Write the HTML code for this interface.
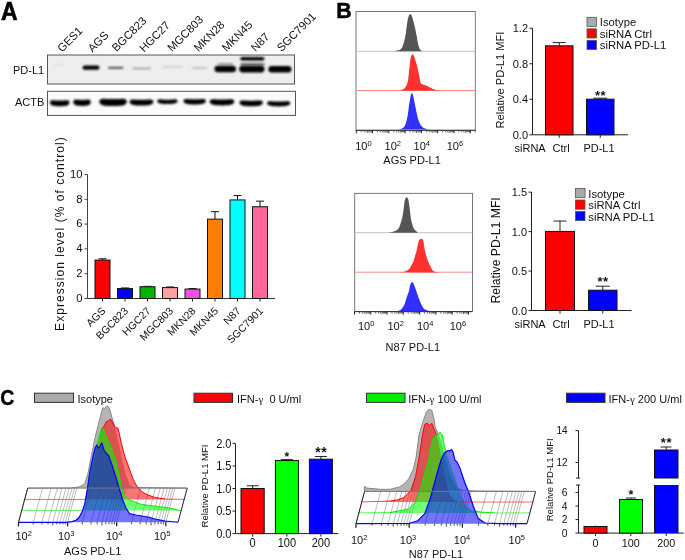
<!DOCTYPE html><html><head><meta charset="utf-8"><style>html,body{margin:0;padding:0;background:#fff;overflow:hidden}svg{display:block;will-change:transform}</style></head><body>
<svg width="685" height="560" viewBox="0 0 685 560" font-family='"Liberation Sans", sans-serif'>
<defs><filter id="b1" x="-30%" y="-400%" width="160%" height="900%"><feGaussianBlur stdDeviation="0.9"/></filter><filter id="b2" x="-30%" y="-400%" width="160%" height="900%"><feGaussianBlur stdDeviation="1.3"/></filter><filter id="b3" x="-30%" y="-400%" width="160%" height="900%"><feGaussianBlur stdDeviation="0.8"/></filter></defs>
<text x="0.90" y="19.70" font-size="25" font-weight="bold" transform="translate(0.90 19.70) scale(0.92 1) translate(-0.90 -19.70)" fill="#000" stroke="#000" stroke-width="0.6">A</text>
<text x="62.00" y="52.80" font-size="11.3" transform="rotate(-45 62.00 52.80)" fill="#111">GES1</text>
<text x="92.50" y="52.80" font-size="11.3" transform="rotate(-45 92.50 52.80)" fill="#111">AGS</text>
<text x="116.50" y="52.30" font-size="11.3" transform="rotate(-45 116.50 52.30)" fill="#111">BGC823</text>
<text x="144.00" y="52.80" font-size="11.3" transform="rotate(-45 144.00 52.80)" fill="#111">HGC27</text>
<text x="172.00" y="52.30" font-size="11.3" transform="rotate(-45 172.00 52.30)" fill="#111">MGC803</text>
<text x="198.50" y="52.30" font-size="11.3" transform="rotate(-45 198.50 52.30)" fill="#111">MKN28</text>
<text x="226.50" y="52.30" font-size="11.3" transform="rotate(-45 226.50 52.30)" fill="#111">MKN45</text>
<text x="255.50" y="52.30" font-size="11.3" transform="rotate(-45 255.50 52.30)" fill="#111">N87</text>
<text x="281.50" y="52.30" font-size="11.3" transform="rotate(-45 281.50 52.30)" fill="#111">SGC7901</text>
<text x="13.00" y="73.80" font-size="11" fill="#111">PD-L1</text>
<text x="15.00" y="106.00" font-size="11" fill="#111">ACTB</text>
<rect x="47.50" y="55.00" width="247.00" height="29.00" fill="#eeeeee" stroke="#555" stroke-width="1"/>
<rect x="53.50" y="64.20" width="10.00" height="1.20" rx="0.60" fill="#bbb" filter="url(#b1)" opacity="0.35"/>
<rect x="82.50" y="65.60" width="17.00" height="4.20" rx="2.10" fill="#000" filter="url(#b1)" opacity="1"/>
<rect x="108.00" y="66.90" width="15.50" height="1.60" rx="0.80" fill="#000" filter="url(#b3)" opacity="0.9"/>
<rect x="132.50" y="67.65" width="18.50" height="1.50" rx="0.75" fill="#222" filter="url(#b1)" opacity="0.45"/>
<rect x="162.50" y="65.90" width="20.00" height="1.80" rx="0.90" fill="#888" filter="url(#b1)" opacity="0.3"/>
<rect x="192.00" y="67.30" width="15.00" height="1.60" rx="0.80" fill="#666" filter="url(#b1)" opacity="0.38"/>
<rect x="218.00" y="63.30" width="15.10" height="1.60" rx="0.80" fill="#444" filter="url(#b1)" opacity="0.6"/>
<rect x="214.50" y="65.70" width="21.50" height="6.60" rx="3.30" fill="#000" filter="url(#b1)" opacity="1"/>
<rect x="240.20" y="57.00" width="24.30" height="3.60" rx="1.80" fill="#000" filter="url(#b1)" opacity="1"/>
<rect x="240.50" y="63.40" width="24.00" height="2.00" rx="1.00" fill="#111" filter="url(#b1)" opacity="0.85"/>
<rect x="239.20" y="65.70" width="25.30" height="6.80" rx="3.40" fill="#000" filter="url(#b1)" opacity="1"/>
<rect x="268.40" y="66.00" width="23.10" height="6.60" rx="3.30" fill="#000" filter="url(#b1)" opacity="1"/>
<rect x="47.50" y="91.30" width="248.00" height="24.10" fill="#fbfbfb" stroke="#555" stroke-width="1"/>
<path d="M49.70,102.40 L50.53,100.77 L51.37,100.42 L52.20,100.30 L53.03,100.28 L53.87,100.32 L54.70,100.37 L55.53,100.43 L56.37,100.49 L57.20,100.54 L58.03,100.57 L58.87,100.59 L59.70,100.60 L60.53,100.59 L61.37,100.57 L62.20,100.54 L63.03,100.49 L63.87,100.43 L64.70,100.37 L65.53,100.32 L66.37,100.28 L67.20,100.30 L68.03,100.42 L68.87,100.77 L69.70,102.40 L69.70,102.40 L68.87,104.35 L68.03,104.99 L67.20,105.38 L66.37,105.63 L65.53,105.80 L64.70,105.93 L63.87,106.02 L63.03,106.09 L62.20,106.14 L61.37,106.17 L60.53,106.19 L59.70,106.20 L58.87,106.19 L58.03,106.17 L57.20,106.14 L56.37,106.09 L55.53,106.02 L54.70,105.93 L53.87,105.80 L53.03,105.63 L52.20,105.38 L51.37,104.99 L50.53,104.35 L49.70,102.40 Z" fill="#000" filter="url(#b3)" opacity="1"/>
<path d="M73.10,101.90 L73.84,100.15 L74.58,99.76 L75.32,99.62 L76.07,99.59 L76.81,99.62 L77.55,99.67 L78.29,99.73 L79.03,99.79 L79.78,99.84 L80.52,99.87 L81.26,99.89 L82.00,99.90 L82.74,99.89 L83.48,99.87 L84.22,99.84 L84.97,99.79 L85.71,99.73 L86.45,99.67 L87.19,99.62 L87.93,99.59 L88.68,99.62 L89.42,99.76 L90.16,100.15 L90.90,101.90 L90.90,101.90 L90.16,103.97 L89.42,104.65 L88.68,105.06 L87.93,105.32 L87.19,105.50 L86.45,105.63 L85.71,105.72 L84.97,105.79 L84.22,105.84 L83.48,105.87 L82.74,105.89 L82.00,105.90 L81.26,105.89 L80.52,105.87 L79.78,105.84 L79.03,105.79 L78.29,105.72 L77.55,105.63 L76.81,105.50 L76.07,105.32 L75.32,105.06 L74.58,104.65 L73.84,103.97 L73.10,101.90 Z" fill="#000" filter="url(#b3)" opacity="1"/>
<path d="M99.10,101.60 L100.26,99.53 L101.42,99.05 L102.59,98.86 L103.75,98.81 L104.91,98.83 L106.07,98.88 L107.24,98.94 L108.40,98.99 L109.56,99.04 L110.72,99.07 L111.89,99.09 L113.05,99.10 L114.21,99.09 L115.38,99.07 L116.54,99.04 L117.70,98.99 L118.86,98.94 L120.03,98.88 L121.19,98.83 L122.35,98.81 L123.51,98.86 L124.67,99.05 L125.84,99.53 L127.00,101.60 L127.00,101.60 L125.84,103.99 L124.67,104.76 L123.51,105.21 L122.35,105.50 L121.19,105.69 L120.03,105.82 L118.86,105.92 L117.70,105.99 L116.54,106.04 L115.38,106.07 L114.21,106.09 L113.05,106.10 L111.89,106.09 L110.72,106.07 L109.56,106.04 L108.40,105.99 L107.24,105.92 L106.07,105.82 L104.91,105.69 L103.75,105.50 L102.59,105.21 L101.42,104.76 L100.26,103.99 L99.10,101.60 Z" fill="#000" filter="url(#b3)" opacity="1"/>
<path d="M129.40,101.70 L130.40,100.01 L131.41,99.64 L132.41,99.51 L133.42,99.49 L134.42,99.52 L135.43,99.57 L136.43,99.63 L137.43,99.69 L138.44,99.74 L139.44,99.77 L140.45,99.79 L141.45,99.80 L142.45,99.79 L143.46,99.77 L144.46,99.74 L145.47,99.69 L146.47,99.63 L147.47,99.57 L148.48,99.52 L149.48,99.49 L150.49,99.51 L151.49,99.64 L152.50,100.01 L153.50,101.70 L153.50,101.70 L152.50,103.71 L151.49,104.37 L150.49,104.77 L149.48,105.03 L148.48,105.20 L147.47,105.33 L146.47,105.42 L145.47,105.49 L144.46,105.54 L143.46,105.57 L142.45,105.59 L141.45,105.60 L140.45,105.59 L139.44,105.57 L138.44,105.54 L137.43,105.49 L136.43,105.42 L135.43,105.33 L134.42,105.20 L133.42,105.03 L132.41,104.77 L131.41,104.37 L130.40,103.71 L129.40,101.70 Z" fill="#000" filter="url(#b3)" opacity="1"/>
<path d="M157.00,100.90 L157.87,99.66 L158.73,99.41 L159.60,99.34 L160.47,99.35 L161.33,99.40 L162.20,99.47 L163.07,99.53 L163.93,99.59 L164.80,99.64 L165.67,99.67 L166.53,99.69 L167.40,99.70 L168.27,99.69 L169.13,99.67 L170.00,99.64 L170.87,99.59 L171.73,99.53 L172.60,99.47 L173.47,99.40 L174.33,99.35 L175.20,99.34 L176.07,99.41 L176.93,99.66 L177.80,100.90 L177.80,100.90 L176.93,102.46 L176.07,103.00 L175.20,103.33 L174.33,103.56 L173.47,103.72 L172.60,103.83 L171.73,103.92 L170.87,103.99 L170.00,104.04 L169.13,104.07 L168.27,104.09 L167.40,104.10 L166.53,104.09 L165.67,104.07 L164.80,104.04 L163.93,103.99 L163.07,103.92 L162.20,103.83 L161.33,103.72 L160.47,103.56 L159.60,103.33 L158.73,103.00 L157.87,102.46 L157.00,100.90 Z" fill="#000" filter="url(#b3)" opacity="1"/>
<path d="M183.30,100.90 L184.25,99.40 L185.19,99.09 L186.14,98.98 L187.08,98.97 L188.03,99.01 L188.98,99.07 L189.92,99.13 L190.87,99.19 L191.81,99.24 L192.76,99.27 L193.70,99.29 L194.65,99.30 L195.60,99.29 L196.54,99.27 L197.49,99.24 L198.43,99.19 L199.38,99.13 L200.32,99.07 L201.27,99.01 L202.22,98.97 L203.16,98.98 L204.11,99.09 L205.05,99.40 L206.00,100.90 L206.00,100.90 L205.05,102.72 L204.11,103.33 L203.16,103.69 L202.22,103.94 L201.27,104.11 L200.32,104.23 L199.38,104.32 L198.43,104.39 L197.49,104.44 L196.54,104.47 L195.60,104.49 L194.65,104.50 L193.70,104.49 L192.76,104.47 L191.81,104.44 L190.87,104.39 L189.92,104.32 L188.98,104.23 L188.03,104.11 L187.08,103.94 L186.14,103.69 L185.19,103.33 L184.25,102.72 L183.30,100.90 Z" fill="#000" filter="url(#b3)" opacity="1"/>
<path d="M209.50,101.50 L210.54,99.81 L211.58,99.44 L212.62,99.31 L213.67,99.29 L214.71,99.32 L215.75,99.37 L216.79,99.43 L217.83,99.49 L218.88,99.54 L219.92,99.57 L220.96,99.59 L222.00,99.60 L223.04,99.59 L224.08,99.57 L225.12,99.54 L226.17,99.49 L227.21,99.43 L228.25,99.37 L229.29,99.32 L230.33,99.29 L231.38,99.31 L232.42,99.44 L233.46,99.81 L234.50,101.50 L234.50,101.50 L233.46,103.51 L232.42,104.17 L231.38,104.57 L230.33,104.83 L229.29,105.00 L228.25,105.13 L227.21,105.22 L226.17,105.29 L225.12,105.34 L224.08,105.37 L223.04,105.39 L222.00,105.40 L220.96,105.39 L219.92,105.37 L218.88,105.34 L217.83,105.29 L216.79,105.22 L215.75,105.13 L214.71,105.00 L213.67,104.83 L212.62,104.57 L211.58,104.17 L210.54,103.51 L209.50,101.50 Z" fill="#000" filter="url(#b3)" opacity="1"/>
<path d="M239.30,102.50 L240.29,100.87 L241.28,100.52 L242.26,100.40 L243.25,100.38 L244.24,100.42 L245.23,100.47 L246.21,100.53 L247.20,100.59 L248.19,100.64 L249.18,100.67 L250.16,100.69 L251.15,100.70 L252.14,100.69 L253.12,100.67 L254.11,100.64 L255.10,100.59 L256.09,100.53 L257.07,100.47 L258.06,100.42 L259.05,100.38 L260.04,100.40 L261.02,100.52 L262.01,100.87 L263.00,102.50 L263.00,102.50 L262.01,104.45 L261.02,105.09 L260.04,105.48 L259.05,105.73 L258.06,105.90 L257.07,106.03 L256.09,106.12 L255.10,106.19 L254.11,106.24 L253.12,106.27 L252.14,106.29 L251.15,106.30 L250.16,106.29 L249.18,106.27 L248.19,106.24 L247.20,106.19 L246.21,106.12 L245.23,106.03 L244.24,105.90 L243.25,105.73 L242.26,105.48 L241.28,105.09 L240.29,104.45 L239.30,102.50 Z" fill="#000" filter="url(#b3)" opacity="1"/>
<path d="M266.80,103.00 L267.79,101.63 L268.78,101.35 L269.76,101.26 L270.75,101.26 L271.74,101.31 L272.73,101.37 L273.71,101.43 L274.70,101.49 L275.69,101.54 L276.68,101.57 L277.66,101.59 L278.65,101.60 L279.64,101.59 L280.62,101.57 L281.61,101.54 L282.60,101.49 L283.59,101.43 L284.57,101.37 L285.56,101.31 L286.55,101.26 L287.54,101.26 L288.52,101.35 L289.51,101.63 L290.50,103.00 L290.50,103.00 L289.51,104.69 L288.52,105.26 L287.54,105.61 L286.55,105.85 L285.56,106.01 L284.57,106.13 L283.59,106.22 L282.60,106.29 L281.61,106.34 L280.62,106.37 L279.64,106.39 L278.65,106.40 L277.66,106.39 L276.68,106.37 L275.69,106.34 L274.70,106.29 L273.71,106.22 L272.73,106.13 L271.74,106.01 L270.75,105.85 L269.76,105.61 L268.78,105.26 L267.79,104.69 L266.80,103.00 Z" fill="#000" filter="url(#b3)" opacity="1"/>
<line x1="87.50" y1="174.50" x2="87.50" y2="298.50" stroke="#444" stroke-width="1"/>
<line x1="87.50" y1="298.50" x2="275.00" y2="298.50" stroke="#333" stroke-width="1"/>
<line x1="84.50" y1="298.50" x2="87.50" y2="298.50" stroke="#444" stroke-width="1"/>
<text x="82.50" y="301.80" font-size="11.3" text-anchor="end" fill="#111">0</text>
<line x1="84.50" y1="273.70" x2="87.50" y2="273.70" stroke="#444" stroke-width="1"/>
<text x="82.50" y="277.00" font-size="11.3" text-anchor="end" fill="#111">2</text>
<line x1="84.50" y1="248.90" x2="87.50" y2="248.90" stroke="#444" stroke-width="1"/>
<text x="82.50" y="252.20" font-size="11.3" text-anchor="end" fill="#111">4</text>
<line x1="84.50" y1="224.10" x2="87.50" y2="224.10" stroke="#444" stroke-width="1"/>
<text x="82.50" y="227.40" font-size="11.3" text-anchor="end" fill="#111">6</text>
<line x1="84.50" y1="199.30" x2="87.50" y2="199.30" stroke="#444" stroke-width="1"/>
<text x="82.50" y="202.60" font-size="11.3" text-anchor="end" fill="#111">8</text>
<line x1="84.50" y1="174.50" x2="87.50" y2="174.50" stroke="#444" stroke-width="1"/>
<text x="82.50" y="177.80" font-size="11.3" text-anchor="end" fill="#111">10</text>
<line x1="102.50" y1="258.82" x2="102.50" y2="260.06" stroke="#111" stroke-width="1"/>
<line x1="98.50" y1="258.82" x2="106.50" y2="258.82" stroke="#111" stroke-width="1"/>
<rect x="95.00" y="260.06" width="15.00" height="38.44" fill="#ff0000" stroke="#111" stroke-width="1"/>
<line x1="102.50" y1="298.50" x2="102.50" y2="301.50" stroke="#222" stroke-width="1"/>
<text x="106.30" y="311.50" font-size="10.5" text-anchor="end" transform="rotate(-45 106.30 311.50)" fill="#111">AGS</text>
<line x1="125.00" y1="287.96" x2="125.00" y2="288.58" stroke="#111" stroke-width="1"/>
<line x1="121.00" y1="287.96" x2="129.00" y2="287.96" stroke="#111" stroke-width="1"/>
<rect x="117.50" y="288.58" width="15.00" height="9.92" fill="#0000ff" stroke="#111" stroke-width="1"/>
<line x1="125.00" y1="298.50" x2="125.00" y2="301.50" stroke="#222" stroke-width="1"/>
<text x="128.80" y="311.50" font-size="10.5" text-anchor="end" transform="rotate(-45 128.80 311.50)" fill="#111">BGC823</text>
<line x1="147.50" y1="286.35" x2="147.50" y2="286.72" stroke="#111" stroke-width="1"/>
<line x1="143.50" y1="286.35" x2="151.50" y2="286.35" stroke="#111" stroke-width="1"/>
<rect x="140.00" y="286.72" width="15.00" height="11.78" fill="#00b400" stroke="#111" stroke-width="1"/>
<line x1="147.50" y1="298.50" x2="147.50" y2="301.50" stroke="#222" stroke-width="1"/>
<text x="151.30" y="311.50" font-size="10.5" text-anchor="end" transform="rotate(-45 151.30 311.50)" fill="#111">HGC27</text>
<line x1="170.00" y1="286.97" x2="170.00" y2="287.59" stroke="#111" stroke-width="1"/>
<line x1="166.00" y1="286.97" x2="174.00" y2="286.97" stroke="#111" stroke-width="1"/>
<rect x="162.50" y="287.59" width="15.00" height="10.91" fill="#ffa0a0" stroke="#111" stroke-width="1"/>
<line x1="170.00" y1="298.50" x2="170.00" y2="301.50" stroke="#222" stroke-width="1"/>
<text x="173.80" y="311.50" font-size="10.5" text-anchor="end" transform="rotate(-45 173.80 311.50)" fill="#111">MGC803</text>
<line x1="192.50" y1="288.58" x2="192.50" y2="289.08" stroke="#111" stroke-width="1"/>
<line x1="188.50" y1="288.58" x2="196.50" y2="288.58" stroke="#111" stroke-width="1"/>
<rect x="185.00" y="289.08" width="15.00" height="9.42" fill="#f050e0" stroke="#111" stroke-width="1"/>
<line x1="192.50" y1="298.50" x2="192.50" y2="301.50" stroke="#222" stroke-width="1"/>
<text x="196.30" y="311.50" font-size="10.5" text-anchor="end" transform="rotate(-45 196.30 311.50)" fill="#111">MKN28</text>
<line x1="215.00" y1="211.70" x2="215.00" y2="219.14" stroke="#111" stroke-width="1"/>
<line x1="211.00" y1="211.70" x2="219.00" y2="211.70" stroke="#111" stroke-width="1"/>
<rect x="207.50" y="219.14" width="15.00" height="79.36" fill="#ff8000" stroke="#111" stroke-width="1"/>
<line x1="215.00" y1="298.50" x2="215.00" y2="301.50" stroke="#222" stroke-width="1"/>
<text x="218.80" y="311.50" font-size="10.5" text-anchor="end" transform="rotate(-45 218.80 311.50)" fill="#111">MKN45</text>
<line x1="237.50" y1="195.58" x2="237.50" y2="199.92" stroke="#111" stroke-width="1"/>
<line x1="233.50" y1="195.58" x2="241.50" y2="195.58" stroke="#111" stroke-width="1"/>
<rect x="230.00" y="199.92" width="15.00" height="98.58" fill="#00ffff" stroke="#111" stroke-width="1"/>
<line x1="237.50" y1="298.50" x2="237.50" y2="301.50" stroke="#222" stroke-width="1"/>
<text x="241.30" y="311.50" font-size="10.5" text-anchor="end" transform="rotate(-45 241.30 311.50)" fill="#111">N87</text>
<line x1="260.00" y1="201.16" x2="260.00" y2="206.74" stroke="#111" stroke-width="1"/>
<line x1="256.00" y1="201.16" x2="264.00" y2="201.16" stroke="#111" stroke-width="1"/>
<rect x="252.50" y="206.74" width="15.00" height="91.76" fill="#ff6699" stroke="#111" stroke-width="1"/>
<line x1="260.00" y1="298.50" x2="260.00" y2="301.50" stroke="#222" stroke-width="1"/>
<text x="263.80" y="311.50" font-size="10.5" text-anchor="end" transform="rotate(-45 263.80 311.50)" fill="#111">SGC7901</text>
<text x="63.80" y="233.60" font-size="12" text-anchor="middle" transform="rotate(-90 63.80 233.60)" letter-spacing="1.05" fill="#111">Expression level (% of control)</text>
<text x="336.30" y="17.90" font-size="23" font-weight="bold" transform="translate(336.30 17.90) scale(0.93 1) translate(-336.30 -17.90)" fill="#000" stroke="#000" stroke-width="0.5">B</text>
<rect x="356.00" y="11.50" width="119.30" height="118.80" fill="#fff" stroke="#777" stroke-width="1"/>
<line x1="356.00" y1="51.30" x2="475.30" y2="51.30" stroke="#c4c4c4" stroke-width="1"/>
<line x1="356.00" y1="90.50" x2="475.30" y2="90.50" stroke="#f88" stroke-width="1"/>
<path d="M394.50,51.20 L395.22,51.03 L396.24,50.84 L397.43,50.59 L398.66,50.26 L399.80,49.84 L400.70,49.30 L401.36,48.62 L401.89,47.82 L402.32,46.92 L402.70,45.96 L403.04,44.94 L403.40,43.90 L403.76,42.84 L404.09,41.73 L404.39,40.57 L404.67,39.36 L404.94,38.11 L405.20,36.80 L405.44,35.42 L405.67,33.97 L405.88,32.47 L406.08,30.94 L406.28,29.41 L406.50,27.90 L406.73,26.35 L406.96,24.72 L407.20,23.09 L407.44,21.53 L407.67,20.11 L407.90,18.90 L408.12,17.90 L408.34,17.07 L408.56,16.37 L408.78,15.80 L408.99,15.31 L409.20,14.90 L409.40,14.57 L409.60,14.36 L409.79,14.23 L409.98,14.19 L410.18,14.22 L410.40,14.30 L410.63,14.42 L410.87,14.59 L411.11,14.82 L411.37,15.15 L411.63,15.60 L411.90,16.20 L412.18,16.99 L412.48,17.94 L412.79,19.02 L413.10,20.18 L413.40,21.35 L413.70,22.50 L413.99,23.64 L414.29,24.80 L414.57,25.99 L414.86,27.20 L415.14,28.40 L415.40,29.60 L415.65,30.80 L415.89,32.00 L416.12,33.20 L416.35,34.40 L416.58,35.60 L416.80,36.80 L417.02,38.01 L417.22,39.24 L417.43,40.46 L417.63,41.66 L417.86,42.82 L418.10,43.90 L418.37,44.94 L418.65,45.96 L418.94,46.92 L419.25,47.82 L419.57,48.62 L419.90,49.30 L420.27,49.84 L420.69,50.26 L421.11,50.59 L421.51,50.84 L421.86,51.03 L422.10,51.20 Z" fill="#555"/>
<path d="M398.00,90.50 L398.21,90.49 L398.49,90.48 L398.82,90.47 L399.22,90.43 L399.68,90.35 L400.20,90.20 L400.82,90.02 L401.56,89.84 L402.35,89.61 L403.16,89.30 L403.92,88.88 L404.60,88.30 L405.20,87.57 L405.76,86.73 L406.29,85.77 L406.77,84.69 L407.21,83.50 L407.60,82.20 L407.92,80.77 L408.18,79.21 L408.39,77.54 L408.59,75.77 L408.78,73.92 L409.00,72.00 L409.25,69.86 L409.50,67.47 L409.76,65.00 L410.01,62.61 L410.26,60.49 L410.50,58.80 L410.73,57.59 L410.96,56.72 L411.19,56.11 L411.40,55.68 L411.61,55.34 L411.80,55.00 L411.97,54.70 L412.13,54.50 L412.27,54.39 L412.41,54.36 L412.55,54.36 L412.70,54.40 L412.86,54.46 L413.02,54.56 L413.18,54.71 L413.35,54.91 L413.52,55.17 L413.70,55.50 L413.88,55.88 L414.05,56.29 L414.23,56.76 L414.42,57.32 L414.64,57.99 L414.90,58.80 L415.21,59.75 L415.56,60.83 L415.94,62.02 L416.33,63.30 L416.72,64.67 L417.10,66.10 L417.48,67.67 L417.86,69.42 L418.25,71.24 L418.63,73.06 L418.98,74.77 L419.30,76.30 L419.57,77.67 L419.80,78.96 L420.00,80.14 L420.20,81.21 L420.43,82.14 L420.70,82.90 L421.00,83.45 L421.32,83.78 L421.66,83.98 L422.03,84.10 L422.44,84.21 L422.90,84.40 L423.42,84.63 L424.00,84.84 L424.61,85.06 L425.26,85.28 L425.93,85.52 L426.60,85.80 L427.29,86.12 L428.02,86.49 L428.76,86.87 L429.51,87.27 L430.26,87.65 L431.00,88.00 L431.72,88.34 L432.44,88.67 L433.15,89.00 L433.86,89.30 L434.58,89.57 L435.30,89.80 L436.05,89.98 L436.84,90.11 L437.63,90.21 L438.39,90.28 L439.09,90.34 L439.70,90.40 L440.23,90.45 L440.71,90.47 L441.12,90.49 L441.48,90.49 L441.77,90.49 L442.00,90.50 Z" fill="#ff3030"/>
<path d="M396.00,129.50 L396.30,129.49 L396.70,129.48 L397.18,129.46 L397.70,129.43 L398.25,129.38 L398.80,129.30 L399.36,129.21 L399.96,129.13 L400.59,129.02 L401.21,128.86 L401.83,128.63 L402.40,128.30 L402.94,127.90 L403.47,127.46 L403.99,126.94 L404.48,126.31 L404.95,125.54 L405.40,124.60 L405.82,123.44 L406.22,122.10 L406.60,120.61 L406.96,119.03 L407.29,117.41 L407.60,115.80 L407.88,114.16 L408.12,112.45 L408.34,110.70 L408.56,108.95 L408.77,107.24 L409.00,105.60 L409.25,103.98 L409.52,102.34 L409.79,100.74 L410.06,99.24 L410.30,97.90 L410.50,96.80 L410.66,95.96 L410.79,95.35 L410.90,94.90 L411.00,94.56 L411.09,94.28 L411.20,94.00 L411.32,93.73 L411.43,93.53 L411.55,93.38 L411.67,93.27 L411.78,93.22 L411.90,93.20 L412.02,93.22 L412.13,93.27 L412.24,93.38 L412.36,93.53 L412.48,93.73 L412.60,94.00 L412.72,94.30 L412.83,94.62 L412.95,94.99 L413.08,95.46 L413.23,96.05 L413.40,96.80 L413.61,97.76 L413.85,98.90 L414.11,100.17 L414.38,101.50 L414.65,102.83 L414.90,104.10 L415.13,105.30 L415.34,106.48 L415.56,107.66 L415.78,108.86 L416.02,110.10 L416.30,111.40 L416.61,112.81 L416.94,114.33 L417.30,115.89 L417.68,117.43 L418.08,118.88 L418.50,120.20 L418.93,121.39 L419.36,122.49 L419.82,123.52 L420.31,124.46 L420.87,125.32 L421.50,126.10 L422.22,126.78 L423.02,127.38 L423.87,127.89 L424.77,128.32 L425.69,128.69 L426.60,129.00 L427.56,129.23 L428.60,129.36 L429.66,129.43 L430.68,129.46 L431.61,129.47 L432.40,129.50 L433.05,129.53 L433.60,129.54 L434.06,129.53 L434.44,129.52 L434.75,129.51 L435.00,129.50 Z" fill="#3030ff"/>
<line x1="356.00" y1="130.30" x2="475.30" y2="130.30" stroke="#333" stroke-width="1"/>
<line x1="356.30" y1="130.30" x2="356.30" y2="133.30" stroke="#222" stroke-width="1.0"/>
<line x1="361.20" y1="130.30" x2="361.20" y2="132.30" stroke="#444" stroke-width="0.8"/>
<line x1="364.07" y1="130.30" x2="364.07" y2="132.30" stroke="#444" stroke-width="0.8"/>
<line x1="366.10" y1="130.30" x2="366.10" y2="132.30" stroke="#444" stroke-width="0.8"/>
<line x1="367.68" y1="130.30" x2="367.68" y2="132.80" stroke="#444" stroke-width="0.8"/>
<line x1="368.97" y1="130.30" x2="368.97" y2="132.30" stroke="#444" stroke-width="0.8"/>
<line x1="370.06" y1="130.30" x2="370.06" y2="132.30" stroke="#444" stroke-width="0.8"/>
<line x1="371.00" y1="130.30" x2="371.00" y2="132.30" stroke="#444" stroke-width="0.8"/>
<line x1="371.84" y1="130.30" x2="371.84" y2="132.30" stroke="#444" stroke-width="0.8"/>
<line x1="372.58" y1="130.30" x2="372.58" y2="133.30" stroke="#222" stroke-width="1.0"/>
<line x1="377.48" y1="130.30" x2="377.48" y2="132.30" stroke="#444" stroke-width="0.8"/>
<line x1="380.35" y1="130.30" x2="380.35" y2="132.30" stroke="#444" stroke-width="0.8"/>
<line x1="382.38" y1="130.30" x2="382.38" y2="132.30" stroke="#444" stroke-width="0.8"/>
<line x1="383.96" y1="130.30" x2="383.96" y2="132.80" stroke="#444" stroke-width="0.8"/>
<line x1="385.25" y1="130.30" x2="385.25" y2="132.30" stroke="#444" stroke-width="0.8"/>
<line x1="386.34" y1="130.30" x2="386.34" y2="132.30" stroke="#444" stroke-width="0.8"/>
<line x1="387.28" y1="130.30" x2="387.28" y2="132.30" stroke="#444" stroke-width="0.8"/>
<line x1="388.12" y1="130.30" x2="388.12" y2="132.30" stroke="#444" stroke-width="0.8"/>
<line x1="388.86" y1="130.30" x2="388.86" y2="133.30" stroke="#222" stroke-width="1.0"/>
<line x1="393.76" y1="130.30" x2="393.76" y2="132.30" stroke="#444" stroke-width="0.8"/>
<line x1="396.63" y1="130.30" x2="396.63" y2="132.30" stroke="#444" stroke-width="0.8"/>
<line x1="398.66" y1="130.30" x2="398.66" y2="132.30" stroke="#444" stroke-width="0.8"/>
<line x1="400.24" y1="130.30" x2="400.24" y2="132.80" stroke="#444" stroke-width="0.8"/>
<line x1="401.53" y1="130.30" x2="401.53" y2="132.30" stroke="#444" stroke-width="0.8"/>
<line x1="402.62" y1="130.30" x2="402.62" y2="132.30" stroke="#444" stroke-width="0.8"/>
<line x1="403.56" y1="130.30" x2="403.56" y2="132.30" stroke="#444" stroke-width="0.8"/>
<line x1="404.40" y1="130.30" x2="404.40" y2="132.30" stroke="#444" stroke-width="0.8"/>
<line x1="405.14" y1="130.30" x2="405.14" y2="133.30" stroke="#222" stroke-width="1.0"/>
<line x1="410.04" y1="130.30" x2="410.04" y2="132.30" stroke="#444" stroke-width="0.8"/>
<line x1="412.91" y1="130.30" x2="412.91" y2="132.30" stroke="#444" stroke-width="0.8"/>
<line x1="414.94" y1="130.30" x2="414.94" y2="132.30" stroke="#444" stroke-width="0.8"/>
<line x1="416.52" y1="130.30" x2="416.52" y2="132.80" stroke="#444" stroke-width="0.8"/>
<line x1="417.81" y1="130.30" x2="417.81" y2="132.30" stroke="#444" stroke-width="0.8"/>
<line x1="418.90" y1="130.30" x2="418.90" y2="132.30" stroke="#444" stroke-width="0.8"/>
<line x1="419.84" y1="130.30" x2="419.84" y2="132.30" stroke="#444" stroke-width="0.8"/>
<line x1="420.68" y1="130.30" x2="420.68" y2="132.30" stroke="#444" stroke-width="0.8"/>
<line x1="421.42" y1="130.30" x2="421.42" y2="133.30" stroke="#222" stroke-width="1.0"/>
<line x1="426.32" y1="130.30" x2="426.32" y2="132.30" stroke="#444" stroke-width="0.8"/>
<line x1="429.19" y1="130.30" x2="429.19" y2="132.30" stroke="#444" stroke-width="0.8"/>
<line x1="431.22" y1="130.30" x2="431.22" y2="132.30" stroke="#444" stroke-width="0.8"/>
<line x1="432.80" y1="130.30" x2="432.80" y2="132.80" stroke="#444" stroke-width="0.8"/>
<line x1="434.09" y1="130.30" x2="434.09" y2="132.30" stroke="#444" stroke-width="0.8"/>
<line x1="435.18" y1="130.30" x2="435.18" y2="132.30" stroke="#444" stroke-width="0.8"/>
<line x1="436.12" y1="130.30" x2="436.12" y2="132.30" stroke="#444" stroke-width="0.8"/>
<line x1="436.96" y1="130.30" x2="436.96" y2="132.30" stroke="#444" stroke-width="0.8"/>
<line x1="437.70" y1="130.30" x2="437.70" y2="133.30" stroke="#222" stroke-width="1.0"/>
<line x1="442.60" y1="130.30" x2="442.60" y2="132.30" stroke="#444" stroke-width="0.8"/>
<line x1="445.47" y1="130.30" x2="445.47" y2="132.30" stroke="#444" stroke-width="0.8"/>
<line x1="447.50" y1="130.30" x2="447.50" y2="132.30" stroke="#444" stroke-width="0.8"/>
<line x1="449.08" y1="130.30" x2="449.08" y2="132.80" stroke="#444" stroke-width="0.8"/>
<line x1="450.37" y1="130.30" x2="450.37" y2="132.30" stroke="#444" stroke-width="0.8"/>
<line x1="451.46" y1="130.30" x2="451.46" y2="132.30" stroke="#444" stroke-width="0.8"/>
<line x1="452.40" y1="130.30" x2="452.40" y2="132.30" stroke="#444" stroke-width="0.8"/>
<line x1="453.24" y1="130.30" x2="453.24" y2="132.30" stroke="#444" stroke-width="0.8"/>
<line x1="453.98" y1="130.30" x2="453.98" y2="133.30" stroke="#222" stroke-width="1.0"/>
<line x1="458.88" y1="130.30" x2="458.88" y2="132.30" stroke="#444" stroke-width="0.8"/>
<line x1="461.75" y1="130.30" x2="461.75" y2="132.30" stroke="#444" stroke-width="0.8"/>
<line x1="463.78" y1="130.30" x2="463.78" y2="132.30" stroke="#444" stroke-width="0.8"/>
<line x1="465.36" y1="130.30" x2="465.36" y2="132.80" stroke="#444" stroke-width="0.8"/>
<line x1="466.65" y1="130.30" x2="466.65" y2="132.30" stroke="#444" stroke-width="0.8"/>
<line x1="467.74" y1="130.30" x2="467.74" y2="132.30" stroke="#444" stroke-width="0.8"/>
<line x1="468.68" y1="130.30" x2="468.68" y2="132.30" stroke="#444" stroke-width="0.8"/>
<line x1="469.52" y1="130.30" x2="469.52" y2="132.30" stroke="#444" stroke-width="0.8"/>
<line x1="470.26" y1="130.30" x2="470.26" y2="133.30" stroke="#222" stroke-width="1.0"/>
<line x1="475.16" y1="130.30" x2="475.16" y2="132.30" stroke="#444" stroke-width="0.8"/>
<text x="355.20" y="149.70" font-size="11" fill="#111">10<tspan font-size="7.5" dy="-4">0</tspan></text>
<text x="384.60" y="149.70" font-size="11" fill="#111">10<tspan font-size="7.5" dy="-4">2</tspan></text>
<text x="413.60" y="149.70" font-size="11" fill="#111">10<tspan font-size="7.5" dy="-4">4</tspan></text>
<text x="446.70" y="149.70" font-size="11" fill="#111">10<tspan font-size="7.5" dy="-4">6</tspan></text>
<text x="383.30" y="164.20" font-size="11" fill="#111">AGS PD-L1</text>
<rect x="354.70" y="193.40" width="117.80" height="118.20" fill="#fff" stroke="#777" stroke-width="1"/>
<line x1="354.70" y1="232.70" x2="472.50" y2="232.70" stroke="#c4c4c4" stroke-width="1"/>
<line x1="354.70" y1="272.20" x2="472.50" y2="272.20" stroke="#f88" stroke-width="1"/>
<path d="M387.50,232.70 L387.97,232.65 L388.61,232.60 L389.37,232.54 L390.21,232.43 L391.11,232.26 L392.00,232.00 L392.96,231.68 L394.03,231.32 L395.15,230.89 L396.24,230.38 L397.25,229.76 L398.10,229.00 L398.78,228.06 L399.35,226.95 L399.83,225.72 L400.24,224.45 L400.62,223.19 L401.00,222.00 L401.36,220.91 L401.67,219.87 L401.95,218.85 L402.21,217.79 L402.45,216.66 L402.70,215.40 L402.95,213.95 L403.18,212.34 L403.41,210.65 L403.62,208.97 L403.82,207.39 L404.00,206.00 L404.15,204.79 L404.27,203.70 L404.37,202.70 L404.48,201.79 L404.61,200.96 L404.80,200.20 L405.04,199.48 L405.33,198.80 L405.64,198.19 L405.97,197.70 L406.29,197.36 L406.60,197.20 L406.89,197.22 L407.19,197.38 L407.49,197.69 L407.77,198.15 L408.05,198.75 L408.30,199.50 L408.53,200.40 L408.73,201.47 L408.92,202.68 L409.10,204.02 L409.29,205.46 L409.50,207.00 L409.72,208.73 L409.94,210.69 L410.17,212.76 L410.41,214.81 L410.65,216.73 L410.90,218.40 L411.15,219.81 L411.41,221.05 L411.68,222.16 L411.95,223.17 L412.23,224.11 L412.50,225.00 L412.75,225.82 L412.99,226.54 L413.22,227.18 L413.48,227.79 L413.80,228.38 L414.20,229.00 L414.74,229.68 L415.42,230.39 L416.16,231.10 L416.87,231.75 L417.47,232.30 L417.90,232.70 Z" fill="#555"/>
<path d="M400.00,272.20 L400.41,272.16 L400.98,272.11 L401.65,272.05 L402.36,271.98 L403.03,271.89 L403.60,271.80 L404.06,271.70 L404.47,271.60 L404.84,271.49 L405.20,271.36 L405.58,271.20 L406.00,271.00 L406.48,270.77 L406.99,270.53 L407.52,270.25 L408.05,269.94 L408.55,269.59 L409.00,269.20 L409.39,268.76 L409.73,268.28 L410.04,267.76 L410.35,267.20 L410.66,266.61 L411.00,266.00 L411.37,265.36 L411.77,264.70 L412.17,264.01 L412.57,263.28 L412.95,262.51 L413.30,261.70 L413.62,260.82 L413.92,259.88 L414.20,258.89 L414.47,257.90 L414.74,256.93 L415.00,256.00 L415.26,255.15 L415.51,254.36 L415.76,253.58 L416.01,252.79 L416.25,251.94 L416.50,251.00 L416.75,249.91 L417.01,248.70 L417.27,247.44 L417.52,246.19 L417.77,245.02 L418.00,244.00 L418.22,243.12 L418.42,242.33 L418.61,241.62 L418.80,241.00 L419.00,240.46 L419.20,240.00 L419.41,239.65 L419.62,239.41 L419.83,239.25 L420.05,239.15 L420.27,239.07 L420.50,239.00 L420.74,238.92 L421.00,238.87 L421.26,238.84 L421.51,238.85 L421.77,238.90 L422.00,239.00 L422.22,239.13 L422.44,239.28 L422.64,239.47 L422.84,239.72 L423.03,240.06 L423.20,240.50 L423.35,241.06 L423.49,241.72 L423.61,242.47 L423.73,243.28 L423.86,244.13 L424.00,245.00 L424.15,245.92 L424.30,246.91 L424.46,247.94 L424.62,248.98 L424.80,250.01 L425.00,251.00 L425.22,251.95 L425.45,252.88 L425.70,253.80 L425.96,254.71 L426.23,255.61 L426.50,256.50 L426.78,257.39 L427.06,258.27 L427.36,259.14 L427.66,260.01 L427.97,260.86 L428.30,261.70 L428.64,262.53 L429.01,263.37 L429.38,264.19 L429.76,264.99 L430.13,265.76 L430.50,266.50 L430.85,267.22 L431.20,267.93 L431.54,268.61 L431.88,269.24 L432.23,269.81 L432.60,270.30 L432.96,270.69 L433.32,271.00 L433.68,271.25 L434.07,271.45 L434.50,271.63 L435.00,271.80 L435.62,271.96 L436.36,272.09 L437.15,272.19 L437.90,272.28 L438.55,272.35 L439.00,272.40 Z" fill="#ff3030"/>
<path d="M398.10,311.00 L398.41,310.87 L398.84,310.72 L399.35,310.53 L399.90,310.28 L400.47,309.94 L401.00,309.50 L401.53,308.95 L402.08,308.31 L402.64,307.59 L403.19,306.80 L403.72,305.93 L404.20,305.00 L404.64,303.97 L405.03,302.84 L405.41,301.64 L405.77,300.40 L406.13,299.18 L406.50,298.00 L406.89,296.86 L407.30,295.73 L407.71,294.61 L408.10,293.49 L408.47,292.39 L408.80,291.30 L409.09,290.18 L409.35,289.02 L409.58,287.87 L409.80,286.78 L410.00,285.81 L410.20,285.00 L410.39,284.38 L410.56,283.90 L410.71,283.54 L410.87,283.26 L411.03,283.03 L411.20,282.80 L411.39,282.59 L411.59,282.41 L411.79,282.28 L412.00,282.20 L412.20,282.17 L412.40,282.20 L412.59,282.28 L412.77,282.42 L412.94,282.61 L413.12,282.85 L413.31,283.15 L413.50,283.50 L413.70,283.92 L413.90,284.40 L414.11,284.94 L414.33,285.52 L414.56,286.15 L414.80,286.80 L415.06,287.49 L415.33,288.22 L415.61,288.99 L415.90,289.79 L416.19,290.63 L416.50,291.50 L416.82,292.42 L417.14,293.41 L417.48,294.42 L417.82,295.45 L418.16,296.45 L418.50,297.40 L418.83,298.31 L419.17,299.20 L419.51,300.07 L419.84,300.91 L420.17,301.72 L420.50,302.50 L420.81,303.24 L421.11,303.95 L421.41,304.63 L421.72,305.28 L422.04,305.90 L422.40,306.50 L422.77,307.08 L423.13,307.63 L423.51,308.16 L423.93,308.65 L424.42,309.10 L425.00,309.50 L425.75,309.85 L426.67,310.17 L427.66,310.44 L428.61,310.67 L429.43,310.85 L430.00,311.00 Z" fill="#3030ff"/>
<line x1="354.70" y1="311.60" x2="472.50" y2="311.60" stroke="#333" stroke-width="1"/>
<line x1="354.50" y1="311.60" x2="354.50" y2="314.60" stroke="#222" stroke-width="1.0"/>
<line x1="359.40" y1="311.60" x2="359.40" y2="313.60" stroke="#444" stroke-width="0.8"/>
<line x1="362.27" y1="311.60" x2="362.27" y2="313.60" stroke="#444" stroke-width="0.8"/>
<line x1="364.30" y1="311.60" x2="364.30" y2="313.60" stroke="#444" stroke-width="0.8"/>
<line x1="365.88" y1="311.60" x2="365.88" y2="314.10" stroke="#444" stroke-width="0.8"/>
<line x1="367.17" y1="311.60" x2="367.17" y2="313.60" stroke="#444" stroke-width="0.8"/>
<line x1="368.26" y1="311.60" x2="368.26" y2="313.60" stroke="#444" stroke-width="0.8"/>
<line x1="369.20" y1="311.60" x2="369.20" y2="313.60" stroke="#444" stroke-width="0.8"/>
<line x1="370.04" y1="311.60" x2="370.04" y2="313.60" stroke="#444" stroke-width="0.8"/>
<line x1="370.78" y1="311.60" x2="370.78" y2="314.60" stroke="#222" stroke-width="1.0"/>
<line x1="375.68" y1="311.60" x2="375.68" y2="313.60" stroke="#444" stroke-width="0.8"/>
<line x1="378.55" y1="311.60" x2="378.55" y2="313.60" stroke="#444" stroke-width="0.8"/>
<line x1="380.58" y1="311.60" x2="380.58" y2="313.60" stroke="#444" stroke-width="0.8"/>
<line x1="382.16" y1="311.60" x2="382.16" y2="314.10" stroke="#444" stroke-width="0.8"/>
<line x1="383.45" y1="311.60" x2="383.45" y2="313.60" stroke="#444" stroke-width="0.8"/>
<line x1="384.54" y1="311.60" x2="384.54" y2="313.60" stroke="#444" stroke-width="0.8"/>
<line x1="385.48" y1="311.60" x2="385.48" y2="313.60" stroke="#444" stroke-width="0.8"/>
<line x1="386.32" y1="311.60" x2="386.32" y2="313.60" stroke="#444" stroke-width="0.8"/>
<line x1="387.06" y1="311.60" x2="387.06" y2="314.60" stroke="#222" stroke-width="1.0"/>
<line x1="391.96" y1="311.60" x2="391.96" y2="313.60" stroke="#444" stroke-width="0.8"/>
<line x1="394.83" y1="311.60" x2="394.83" y2="313.60" stroke="#444" stroke-width="0.8"/>
<line x1="396.86" y1="311.60" x2="396.86" y2="313.60" stroke="#444" stroke-width="0.8"/>
<line x1="398.44" y1="311.60" x2="398.44" y2="314.10" stroke="#444" stroke-width="0.8"/>
<line x1="399.73" y1="311.60" x2="399.73" y2="313.60" stroke="#444" stroke-width="0.8"/>
<line x1="400.82" y1="311.60" x2="400.82" y2="313.60" stroke="#444" stroke-width="0.8"/>
<line x1="401.76" y1="311.60" x2="401.76" y2="313.60" stroke="#444" stroke-width="0.8"/>
<line x1="402.60" y1="311.60" x2="402.60" y2="313.60" stroke="#444" stroke-width="0.8"/>
<line x1="403.34" y1="311.60" x2="403.34" y2="314.60" stroke="#222" stroke-width="1.0"/>
<line x1="408.24" y1="311.60" x2="408.24" y2="313.60" stroke="#444" stroke-width="0.8"/>
<line x1="411.11" y1="311.60" x2="411.11" y2="313.60" stroke="#444" stroke-width="0.8"/>
<line x1="413.14" y1="311.60" x2="413.14" y2="313.60" stroke="#444" stroke-width="0.8"/>
<line x1="414.72" y1="311.60" x2="414.72" y2="314.10" stroke="#444" stroke-width="0.8"/>
<line x1="416.01" y1="311.60" x2="416.01" y2="313.60" stroke="#444" stroke-width="0.8"/>
<line x1="417.10" y1="311.60" x2="417.10" y2="313.60" stroke="#444" stroke-width="0.8"/>
<line x1="418.04" y1="311.60" x2="418.04" y2="313.60" stroke="#444" stroke-width="0.8"/>
<line x1="418.88" y1="311.60" x2="418.88" y2="313.60" stroke="#444" stroke-width="0.8"/>
<line x1="419.62" y1="311.60" x2="419.62" y2="314.60" stroke="#222" stroke-width="1.0"/>
<line x1="424.52" y1="311.60" x2="424.52" y2="313.60" stroke="#444" stroke-width="0.8"/>
<line x1="427.39" y1="311.60" x2="427.39" y2="313.60" stroke="#444" stroke-width="0.8"/>
<line x1="429.42" y1="311.60" x2="429.42" y2="313.60" stroke="#444" stroke-width="0.8"/>
<line x1="431.00" y1="311.60" x2="431.00" y2="314.10" stroke="#444" stroke-width="0.8"/>
<line x1="432.29" y1="311.60" x2="432.29" y2="313.60" stroke="#444" stroke-width="0.8"/>
<line x1="433.38" y1="311.60" x2="433.38" y2="313.60" stroke="#444" stroke-width="0.8"/>
<line x1="434.32" y1="311.60" x2="434.32" y2="313.60" stroke="#444" stroke-width="0.8"/>
<line x1="435.16" y1="311.60" x2="435.16" y2="313.60" stroke="#444" stroke-width="0.8"/>
<line x1="435.90" y1="311.60" x2="435.90" y2="314.60" stroke="#222" stroke-width="1.0"/>
<line x1="440.80" y1="311.60" x2="440.80" y2="313.60" stroke="#444" stroke-width="0.8"/>
<line x1="443.67" y1="311.60" x2="443.67" y2="313.60" stroke="#444" stroke-width="0.8"/>
<line x1="445.70" y1="311.60" x2="445.70" y2="313.60" stroke="#444" stroke-width="0.8"/>
<line x1="447.28" y1="311.60" x2="447.28" y2="314.10" stroke="#444" stroke-width="0.8"/>
<line x1="448.57" y1="311.60" x2="448.57" y2="313.60" stroke="#444" stroke-width="0.8"/>
<line x1="449.66" y1="311.60" x2="449.66" y2="313.60" stroke="#444" stroke-width="0.8"/>
<line x1="450.60" y1="311.60" x2="450.60" y2="313.60" stroke="#444" stroke-width="0.8"/>
<line x1="451.44" y1="311.60" x2="451.44" y2="313.60" stroke="#444" stroke-width="0.8"/>
<line x1="452.18" y1="311.60" x2="452.18" y2="314.60" stroke="#222" stroke-width="1.0"/>
<line x1="457.08" y1="311.60" x2="457.08" y2="313.60" stroke="#444" stroke-width="0.8"/>
<line x1="459.95" y1="311.60" x2="459.95" y2="313.60" stroke="#444" stroke-width="0.8"/>
<line x1="461.98" y1="311.60" x2="461.98" y2="313.60" stroke="#444" stroke-width="0.8"/>
<line x1="463.56" y1="311.60" x2="463.56" y2="314.10" stroke="#444" stroke-width="0.8"/>
<line x1="464.85" y1="311.60" x2="464.85" y2="313.60" stroke="#444" stroke-width="0.8"/>
<line x1="465.94" y1="311.60" x2="465.94" y2="313.60" stroke="#444" stroke-width="0.8"/>
<line x1="466.88" y1="311.60" x2="466.88" y2="313.60" stroke="#444" stroke-width="0.8"/>
<line x1="467.72" y1="311.60" x2="467.72" y2="313.60" stroke="#444" stroke-width="0.8"/>
<line x1="468.46" y1="311.60" x2="468.46" y2="314.60" stroke="#222" stroke-width="1.0"/>
<text x="358.00" y="330.20" font-size="11" fill="#111">10<tspan font-size="7.5" dy="-4">0</tspan></text>
<text x="387.50" y="330.20" font-size="11" fill="#111">10<tspan font-size="7.5" dy="-4">2</tspan></text>
<text x="416.90" y="330.20" font-size="11" fill="#111">10<tspan font-size="7.5" dy="-4">4</tspan></text>
<text x="449.70" y="330.20" font-size="11" fill="#111">10<tspan font-size="7.5" dy="-4">6</tspan></text>
<text x="385.60" y="351.00" font-size="11" fill="#111">N87 PD-L1</text>
<line x1="532.50" y1="28.20" x2="532.50" y2="134.80" stroke="#222" stroke-width="1"/>
<line x1="532.50" y1="134.80" x2="628.00" y2="134.80" stroke="#222" stroke-width="1"/>
<line x1="529.50" y1="134.80" x2="532.50" y2="134.80" stroke="#222" stroke-width="1"/>
<text x="528.00" y="138.80" font-size="11" text-anchor="end" fill="#111">0.0</text>
<line x1="529.50" y1="99.28" x2="532.50" y2="99.28" stroke="#222" stroke-width="1"/>
<text x="528.00" y="103.28" font-size="11" text-anchor="end" fill="#111">0.4</text>
<line x1="529.50" y1="63.76" x2="532.50" y2="63.76" stroke="#222" stroke-width="1"/>
<text x="528.00" y="67.76" font-size="11" text-anchor="end" fill="#111">0.8</text>
<line x1="529.50" y1="28.24" x2="532.50" y2="28.24" stroke="#222" stroke-width="1"/>
<text x="528.00" y="32.24" font-size="11" text-anchor="end" fill="#111">1.2</text>
<line x1="559.25" y1="42.60" x2="559.25" y2="45.80" stroke="#222" stroke-width="1"/>
<line x1="552.75" y1="42.60" x2="565.75" y2="42.60" stroke="#222" stroke-width="1"/>
<rect x="545.50" y="45.80" width="27.50" height="89.00" fill="#ff0000" stroke="#111" stroke-width="1"/>
<line x1="600.25" y1="98.20" x2="600.25" y2="99.20" stroke="#222" stroke-width="1"/>
<line x1="593.25" y1="98.20" x2="607.25" y2="98.20" stroke="#222" stroke-width="1"/>
<rect x="586.50" y="99.20" width="27.50" height="35.60" fill="#0000ff" stroke="#111" stroke-width="1"/>
<text x="600.55" y="99.50" font-size="13" text-anchor="middle" font-weight="bold" letter-spacing="0.6" fill="#111">**</text>
<line x1="559.25" y1="134.80" x2="559.25" y2="137.80" stroke="#222" stroke-width="1"/>
<line x1="600.25" y1="134.80" x2="600.25" y2="137.80" stroke="#222" stroke-width="1"/>
<text x="504.00" y="80.00" font-size="11.1" text-anchor="middle" transform="rotate(-90 504.00 80.00)" fill="#111">Relative PD-L1 MFI</text>
<text x="514.50" y="152.00" font-size="11" fill="#111">siRNA</text>
<text x="552.60" y="152.00" font-size="11" fill="#111">Ctrl</text>
<text x="583.40" y="152.00" font-size="11" fill="#111">PD-L1</text>
<rect x="587.00" y="17.30" width="9.50" height="9.20" fill="#aaaaaa" stroke="#555" stroke-width="0.8"/>
<text x="599.80" y="26.30" font-size="11.3" fill="#111">Isotype</text>
<rect x="587.00" y="28.80" width="9.50" height="9.20" fill="#ff0000" stroke="#555" stroke-width="0.8"/>
<text x="599.80" y="37.80" font-size="11.3" fill="#111">siRNA Ctrl</text>
<rect x="587.00" y="40.30" width="9.50" height="9.20" fill="#0000ff" stroke="#555" stroke-width="0.8"/>
<text x="599.80" y="49.30" font-size="11.3" fill="#111">siRNA PD-L1</text>
<line x1="531.50" y1="192.00" x2="531.50" y2="310.50" stroke="#222" stroke-width="1"/>
<line x1="531.50" y1="310.50" x2="631.60" y2="310.50" stroke="#222" stroke-width="1"/>
<line x1="528.50" y1="310.50" x2="531.50" y2="310.50" stroke="#222" stroke-width="1"/>
<text x="527.00" y="314.50" font-size="11" text-anchor="end" fill="#111">0.0</text>
<line x1="528.50" y1="271.05" x2="531.50" y2="271.05" stroke="#222" stroke-width="1"/>
<text x="527.00" y="275.05" font-size="11" text-anchor="end" fill="#111">0.5</text>
<line x1="528.50" y1="231.60" x2="531.50" y2="231.60" stroke="#222" stroke-width="1"/>
<text x="527.00" y="235.60" font-size="11" text-anchor="end" fill="#111">1.0</text>
<line x1="528.50" y1="192.15" x2="531.50" y2="192.15" stroke="#222" stroke-width="1"/>
<text x="527.00" y="196.15" font-size="11" text-anchor="end" fill="#111">1.5</text>
<line x1="560.00" y1="221.00" x2="560.00" y2="231.40" stroke="#222" stroke-width="1"/>
<line x1="553.50" y1="221.00" x2="566.50" y2="221.00" stroke="#222" stroke-width="1"/>
<rect x="545.50" y="231.40" width="29.00" height="79.10" fill="#ff0000" stroke="#111" stroke-width="1"/>
<line x1="602.75" y1="286.20" x2="602.75" y2="290.20" stroke="#222" stroke-width="1"/>
<line x1="595.75" y1="286.20" x2="609.75" y2="286.20" stroke="#222" stroke-width="1"/>
<rect x="588.50" y="290.20" width="28.50" height="20.30" fill="#0000ff" stroke="#111" stroke-width="1"/>
<text x="603.05" y="286.20" font-size="13" text-anchor="middle" font-weight="bold" letter-spacing="0.6" fill="#111">**</text>
<line x1="560.00" y1="310.50" x2="560.00" y2="313.50" stroke="#222" stroke-width="1"/>
<line x1="602.75" y1="310.50" x2="602.75" y2="313.50" stroke="#222" stroke-width="1"/>
<text x="500.30" y="250.40" font-size="12.2" text-anchor="middle" transform="rotate(-90 500.30 250.40)" fill="#111">Relative PD-L1 MFI</text>
<text x="514.50" y="328.00" font-size="11" fill="#111">siRNA</text>
<text x="552.60" y="328.00" font-size="11" fill="#111">Ctrl</text>
<text x="583.40" y="328.00" font-size="11" fill="#111">PD-L1</text>
<rect x="575.50" y="188.50" width="9.50" height="9.20" fill="#aaaaaa" stroke="#555" stroke-width="0.8"/>
<text x="588.30" y="197.50" font-size="11.3" fill="#111">Isotype</text>
<rect x="575.50" y="200.00" width="9.50" height="9.20" fill="#ff0000" stroke="#555" stroke-width="0.8"/>
<text x="588.30" y="209.00" font-size="11.3" fill="#111">siRNA Ctrl</text>
<rect x="575.50" y="211.50" width="9.50" height="9.20" fill="#0000ff" stroke="#555" stroke-width="0.8"/>
<text x="588.30" y="220.50" font-size="11.3" fill="#111">siRNA PD-L1</text>
<text x="0.20" y="405.50" font-size="22" font-weight="bold" transform="translate(0.20 405.50) scale(0.89 1) translate(-0.20 -405.50)" fill="#000" stroke="#000" stroke-width="0.4">C</text>
<rect x="34.50" y="393.20" width="39.00" height="9.20" fill="#aaaaaa" stroke="#333" stroke-width="1"/>
<text x="77.50" y="403.00" font-size="11" fill="#111" xml:space="preserve">Isotype</text>
<rect x="194.00" y="393.20" width="38.50" height="9.20" fill="#ff0000" stroke="#333" stroke-width="1"/>
<text x="237.00" y="403.00" font-size="11" fill="#111" xml:space="preserve">IFN-<tspan font-family='Liberation Serif'>γ</tspan>  0 U/ml</text>
<rect x="366.50" y="393.20" width="38.50" height="9.20" fill="#00ee00" stroke="#333" stroke-width="1"/>
<text x="408.20" y="403.00" font-size="11" fill="#111" xml:space="preserve">IFN-<tspan font-family='Liberation Serif'>γ</tspan> 100 U/ml</text>
<rect x="566.50" y="393.20" width="38.50" height="9.20" fill="#0000ff" stroke="#333" stroke-width="1"/>
<text x="608.50" y="403.00" font-size="11" fill="#111" xml:space="preserve">IFN-<tspan font-family='Liberation Serif'>γ</tspan> 200 U/ml</text>
<line x1="18.50" y1="522.30" x2="27.71" y2="488.10" stroke="#333" stroke-width="0.5" stroke-opacity="0.65"/>
<line x1="18.50" y1="522.30" x2="18.50" y2="526.30" stroke="#222" stroke-width="1.3"/>
<line x1="33.28" y1="522.30" x2="42.49" y2="488.10" stroke="#333" stroke-width="0.5" stroke-opacity="0.65"/>
<line x1="33.28" y1="522.30" x2="33.28" y2="524.30" stroke="#222" stroke-width="0.8"/>
<line x1="41.93" y1="522.30" x2="51.14" y2="488.10" stroke="#333" stroke-width="0.5" stroke-opacity="0.65"/>
<line x1="41.93" y1="522.30" x2="41.93" y2="524.30" stroke="#222" stroke-width="0.8"/>
<line x1="48.06" y1="522.30" x2="57.27" y2="488.10" stroke="#333" stroke-width="0.5" stroke-opacity="0.65"/>
<line x1="48.06" y1="522.30" x2="48.06" y2="524.30" stroke="#222" stroke-width="0.8"/>
<line x1="52.82" y1="522.30" x2="62.03" y2="488.10" stroke="#333" stroke-width="0.5" stroke-opacity="0.65"/>
<line x1="52.82" y1="522.30" x2="52.82" y2="525.30" stroke="#222" stroke-width="0.8"/>
<line x1="56.71" y1="522.30" x2="65.92" y2="488.10" stroke="#333" stroke-width="0.5" stroke-opacity="0.65"/>
<line x1="56.71" y1="522.30" x2="56.71" y2="524.30" stroke="#222" stroke-width="0.8"/>
<line x1="59.99" y1="522.30" x2="69.20" y2="488.10" stroke="#333" stroke-width="0.5" stroke-opacity="0.65"/>
<line x1="59.99" y1="522.30" x2="59.99" y2="524.30" stroke="#222" stroke-width="0.8"/>
<line x1="62.84" y1="522.30" x2="72.05" y2="488.10" stroke="#333" stroke-width="0.5" stroke-opacity="0.65"/>
<line x1="62.84" y1="522.30" x2="62.84" y2="524.30" stroke="#222" stroke-width="0.8"/>
<line x1="65.35" y1="522.30" x2="74.56" y2="488.10" stroke="#333" stroke-width="0.5" stroke-opacity="0.65"/>
<line x1="65.35" y1="522.30" x2="65.35" y2="524.30" stroke="#222" stroke-width="0.8"/>
<line x1="67.60" y1="522.30" x2="76.81" y2="488.10" stroke="#333" stroke-width="0.5" stroke-opacity="0.65"/>
<line x1="67.60" y1="522.30" x2="67.60" y2="526.30" stroke="#222" stroke-width="1.3"/>
<line x1="82.38" y1="522.30" x2="91.59" y2="488.10" stroke="#333" stroke-width="0.5" stroke-opacity="0.65"/>
<line x1="82.38" y1="522.30" x2="82.38" y2="524.30" stroke="#222" stroke-width="0.8"/>
<line x1="91.03" y1="522.30" x2="100.24" y2="488.10" stroke="#333" stroke-width="0.5" stroke-opacity="0.65"/>
<line x1="91.03" y1="522.30" x2="91.03" y2="524.30" stroke="#222" stroke-width="0.8"/>
<line x1="97.16" y1="522.30" x2="106.37" y2="488.10" stroke="#333" stroke-width="0.5" stroke-opacity="0.65"/>
<line x1="97.16" y1="522.30" x2="97.16" y2="524.30" stroke="#222" stroke-width="0.8"/>
<line x1="101.92" y1="522.30" x2="111.13" y2="488.10" stroke="#333" stroke-width="0.5" stroke-opacity="0.65"/>
<line x1="101.92" y1="522.30" x2="101.92" y2="525.30" stroke="#222" stroke-width="0.8"/>
<line x1="105.81" y1="522.30" x2="115.02" y2="488.10" stroke="#333" stroke-width="0.5" stroke-opacity="0.65"/>
<line x1="105.81" y1="522.30" x2="105.81" y2="524.30" stroke="#222" stroke-width="0.8"/>
<line x1="109.09" y1="522.30" x2="118.30" y2="488.10" stroke="#333" stroke-width="0.5" stroke-opacity="0.65"/>
<line x1="109.09" y1="522.30" x2="109.09" y2="524.30" stroke="#222" stroke-width="0.8"/>
<line x1="111.94" y1="522.30" x2="121.15" y2="488.10" stroke="#333" stroke-width="0.5" stroke-opacity="0.65"/>
<line x1="111.94" y1="522.30" x2="111.94" y2="524.30" stroke="#222" stroke-width="0.8"/>
<line x1="114.45" y1="522.30" x2="123.66" y2="488.10" stroke="#333" stroke-width="0.5" stroke-opacity="0.65"/>
<line x1="114.45" y1="522.30" x2="114.45" y2="524.30" stroke="#222" stroke-width="0.8"/>
<line x1="116.70" y1="522.30" x2="125.91" y2="488.10" stroke="#333" stroke-width="0.5" stroke-opacity="0.65"/>
<line x1="116.70" y1="522.30" x2="116.70" y2="526.30" stroke="#222" stroke-width="1.3"/>
<line x1="131.48" y1="522.30" x2="140.69" y2="488.10" stroke="#333" stroke-width="0.5" stroke-opacity="0.65"/>
<line x1="131.48" y1="522.30" x2="131.48" y2="524.30" stroke="#222" stroke-width="0.8"/>
<line x1="140.13" y1="522.30" x2="149.34" y2="488.10" stroke="#333" stroke-width="0.5" stroke-opacity="0.65"/>
<line x1="140.13" y1="522.30" x2="140.13" y2="524.30" stroke="#222" stroke-width="0.8"/>
<line x1="146.26" y1="522.30" x2="155.47" y2="488.10" stroke="#333" stroke-width="0.5" stroke-opacity="0.65"/>
<line x1="146.26" y1="522.30" x2="146.26" y2="524.30" stroke="#222" stroke-width="0.8"/>
<line x1="151.02" y1="522.30" x2="160.23" y2="488.10" stroke="#333" stroke-width="0.5" stroke-opacity="0.65"/>
<line x1="151.02" y1="522.30" x2="151.02" y2="525.30" stroke="#222" stroke-width="0.8"/>
<line x1="154.91" y1="522.30" x2="164.12" y2="488.10" stroke="#333" stroke-width="0.5" stroke-opacity="0.65"/>
<line x1="154.91" y1="522.30" x2="154.91" y2="524.30" stroke="#222" stroke-width="0.8"/>
<line x1="158.19" y1="522.30" x2="167.40" y2="488.10" stroke="#333" stroke-width="0.5" stroke-opacity="0.65"/>
<line x1="158.19" y1="522.30" x2="158.19" y2="524.30" stroke="#222" stroke-width="0.8"/>
<line x1="161.04" y1="522.30" x2="170.25" y2="488.10" stroke="#333" stroke-width="0.5" stroke-opacity="0.65"/>
<line x1="161.04" y1="522.30" x2="161.04" y2="524.30" stroke="#222" stroke-width="0.8"/>
<line x1="163.55" y1="522.30" x2="172.76" y2="488.10" stroke="#333" stroke-width="0.5" stroke-opacity="0.65"/>
<line x1="163.55" y1="522.30" x2="163.55" y2="524.30" stroke="#222" stroke-width="0.8"/>
<line x1="165.80" y1="522.30" x2="175.01" y2="488.10" stroke="#333" stroke-width="0.5" stroke-opacity="0.65"/>
<line x1="165.80" y1="522.30" x2="165.80" y2="526.30" stroke="#222" stroke-width="1.3"/>
<path d="M27.71,488.10 L70.00,488.00 L75.00,487.50 L78.90,487.00 L83.00,485.00 L85.20,482.50 L87.90,473.60 L91.40,455.70 L95.00,437.90 L99.50,420.00 L101.50,412.00 L103.00,407.50 L104.50,409.00 L106.00,406.50 L107.50,406.00 L108.70,407.00 L110.00,410.00 L111.50,416.00 L113.00,421.00 L114.50,425.00 L116.00,432.00 L118.00,440.00 L122.00,460.00 L126.00,475.00 L130.00,485.00 L135.00,487.50 L187.21,488.10 Z" fill="#b4b4b4" fill-opacity="1.0"/>
<path d="M24.64,499.40 L85.50,499.40 L86.40,495.70 L88.00,488.00 L91.00,475.00 L96.00,450.70 L100.00,435.00 L102.00,428.00 L104.00,426.40 L106.40,421.40 L108.50,421.00 L110.40,418.90 L112.10,421.40 L113.90,425.70 L115.70,427.90 L117.90,427.90 L119.30,433.60 L121.40,443.60 L125.00,457.00 L129.60,469.60 L133.00,479.00 L136.60,485.80 L142.00,492.00 L148.00,495.00 L155.00,497.50 L165.00,499.00 L184.14,499.40 Z" fill="#ff0000" fill-opacity="0.55"/>
<path d="M21.57,510.60 L83.80,510.60 L84.90,505.70 L87.60,491.40 L90.20,473.60 L93.80,455.70 L97.20,444.00 L99.00,437.00 L101.00,431.00 L103.00,427.80 L105.00,433.00 L108.70,441.80 L112.00,450.00 L115.70,460.00 L118.50,472.00 L121.50,488.00 L125.00,496.00 L129.60,499.80 L135.00,502.00 L141.20,504.40 L150.00,505.50 L160.00,506.70 L172.00,508.50 L180.00,510.60 L181.07,510.60 Z" fill="#00ff00" fill-opacity="0.55"/>
<path d="M18.50,522.30 L66.00,522.30 L72.00,521.60 L76.00,520.20 L79.00,517.50 L82.00,512.00 L84.50,505.00 L87.00,491.40 L89.60,473.60 L93.20,455.70 L95.50,447.00 L96.80,445.00 L98.00,448.00 L99.50,447.00 L101.80,443.00 L104.00,450.00 L106.00,453.00 L108.70,455.70 L112.00,465.00 L115.70,476.60 L119.00,488.00 L122.60,499.80 L126.00,508.00 L129.60,513.70 L136.00,515.00 L142.00,516.00 L148.00,517.00 L155.00,519.00 L165.00,521.00 L176.00,522.00 L178.00,522.30 Z" fill="#0000ff" fill-opacity="0.55"/>
<mask id="fm1" maskUnits="userSpaceOnUse" x="0" y="0" width="685" height="560"><rect x="0" y="0" width="685" height="560" fill="white"/><path d="M24.64,499.40 L85.50,499.40 L86.40,495.70 L88.00,488.00 L91.00,475.00 L96.00,450.70 L100.00,435.00 L102.00,428.00 L104.00,426.40 L106.40,421.40 L108.50,421.00 L110.40,418.90 L112.10,421.40 L113.90,425.70 L115.70,427.90 L117.90,427.90 L119.30,433.60 L121.40,443.60 L125.00,457.00 L129.60,469.60 L133.00,479.00 L136.60,485.80 L142.00,492.00 L148.00,495.00 L155.00,497.50 L165.00,499.00 L184.14,499.40 Z" fill="black"/><path d="M21.57,510.60 L83.80,510.60 L84.90,505.70 L87.60,491.40 L90.20,473.60 L93.80,455.70 L97.20,444.00 L99.00,437.00 L101.00,431.00 L103.00,427.80 L105.00,433.00 L108.70,441.80 L112.00,450.00 L115.70,460.00 L118.50,472.00 L121.50,488.00 L125.00,496.00 L129.60,499.80 L135.00,502.00 L141.20,504.40 L150.00,505.50 L160.00,506.70 L172.00,508.50 L180.00,510.60 L181.07,510.60 Z" fill="black"/><path d="M18.50,522.30 L66.00,522.30 L72.00,521.60 L76.00,520.20 L79.00,517.50 L82.00,512.00 L84.50,505.00 L87.00,491.40 L89.60,473.60 L93.20,455.70 L95.50,447.00 L96.80,445.00 L98.00,448.00 L99.50,447.00 L101.80,443.00 L104.00,450.00 L106.00,453.00 L108.70,455.70 L112.00,465.00 L115.70,476.60 L119.00,488.00 L122.60,499.80 L126.00,508.00 L129.60,513.70 L136.00,515.00 L142.00,516.00 L148.00,517.00 L155.00,519.00 L165.00,521.00 L176.00,522.00 L178.00,522.30 Z" fill="black"/></mask>
<path d="M27.71,488.10 L70.00,488.00 L75.00,487.50 L78.90,487.00 L83.00,485.00 L85.20,482.50 L87.90,473.60 L91.40,455.70 L95.00,437.90 L99.50,420.00 L101.50,412.00 L103.00,407.50 L104.50,409.00 L106.00,406.50 L107.50,406.00 L108.70,407.00 L110.00,410.00 L111.50,416.00 L113.00,421.00 L114.50,425.00 L116.00,432.00 L118.00,440.00 L122.00,460.00 L126.00,475.00 L130.00,485.00 L135.00,487.50 L187.21,488.10" fill="none" stroke="#888" stroke-width="1.0" stroke-linejoin="round" mask="url(#fm1)"/>
<mask id="fm2" maskUnits="userSpaceOnUse" x="0" y="0" width="685" height="560"><rect x="0" y="0" width="685" height="560" fill="white"/><path d="M21.57,510.60 L83.80,510.60 L84.90,505.70 L87.60,491.40 L90.20,473.60 L93.80,455.70 L97.20,444.00 L99.00,437.00 L101.00,431.00 L103.00,427.80 L105.00,433.00 L108.70,441.80 L112.00,450.00 L115.70,460.00 L118.50,472.00 L121.50,488.00 L125.00,496.00 L129.60,499.80 L135.00,502.00 L141.20,504.40 L150.00,505.50 L160.00,506.70 L172.00,508.50 L180.00,510.60 L181.07,510.60 Z" fill="black"/><path d="M18.50,522.30 L66.00,522.30 L72.00,521.60 L76.00,520.20 L79.00,517.50 L82.00,512.00 L84.50,505.00 L87.00,491.40 L89.60,473.60 L93.20,455.70 L95.50,447.00 L96.80,445.00 L98.00,448.00 L99.50,447.00 L101.80,443.00 L104.00,450.00 L106.00,453.00 L108.70,455.70 L112.00,465.00 L115.70,476.60 L119.00,488.00 L122.60,499.80 L126.00,508.00 L129.60,513.70 L136.00,515.00 L142.00,516.00 L148.00,517.00 L155.00,519.00 L165.00,521.00 L176.00,522.00 L178.00,522.30 Z" fill="black"/></mask>
<path d="M85.50,499.40 L86.40,495.70 L88.00,488.00 L91.00,475.00 L96.00,450.70 L100.00,435.00 L102.00,428.00 L104.00,426.40 L106.40,421.40 L108.50,421.00 L110.40,418.90 L112.10,421.40 L113.90,425.70 L115.70,427.90 L117.90,427.90 L119.30,433.60 L121.40,443.60 L125.00,457.00 L129.60,469.60 L133.00,479.00 L136.60,485.80 L142.00,492.00 L148.00,495.00 L155.00,497.50 L165.00,499.00" fill="none" stroke="#ff0000" stroke-width="1.0" stroke-linejoin="round" mask="url(#fm2)"/>
<line x1="23.84" y1="499.40" x2="85.50" y2="499.40" stroke="#ff0000" stroke-width="1.0" stroke-opacity="0.6"/>
<line x1="165.00" y1="499.00" x2="184.94" y2="499.40" stroke="#ff0000" stroke-width="1.0" stroke-opacity="0.6"/>
<mask id="fm3" maskUnits="userSpaceOnUse" x="0" y="0" width="685" height="560"><rect x="0" y="0" width="685" height="560" fill="white"/><path d="M18.50,522.30 L66.00,522.30 L72.00,521.60 L76.00,520.20 L79.00,517.50 L82.00,512.00 L84.50,505.00 L87.00,491.40 L89.60,473.60 L93.20,455.70 L95.50,447.00 L96.80,445.00 L98.00,448.00 L99.50,447.00 L101.80,443.00 L104.00,450.00 L106.00,453.00 L108.70,455.70 L112.00,465.00 L115.70,476.60 L119.00,488.00 L122.60,499.80 L126.00,508.00 L129.60,513.70 L136.00,515.00 L142.00,516.00 L148.00,517.00 L155.00,519.00 L165.00,521.00 L176.00,522.00 L178.00,522.30 Z" fill="black"/></mask>
<path d="M83.80,510.60 L84.90,505.70 L87.60,491.40 L90.20,473.60 L93.80,455.70 L97.20,444.00 L99.00,437.00 L101.00,431.00 L103.00,427.80 L105.00,433.00 L108.70,441.80 L112.00,450.00 L115.70,460.00 L118.50,472.00 L121.50,488.00 L125.00,496.00 L129.60,499.80 L135.00,502.00 L141.20,504.40 L150.00,505.50 L160.00,506.70 L172.00,508.50 L180.00,510.60" fill="none" stroke="#00ee00" stroke-width="1.0" stroke-linejoin="round" mask="url(#fm3)"/>
<line x1="20.77" y1="510.60" x2="83.80" y2="510.60" stroke="#00ee00" stroke-width="1.0" stroke-opacity="0.6"/>
<line x1="180.00" y1="510.60" x2="181.87" y2="510.60" stroke="#00ee00" stroke-width="1.0" stroke-opacity="0.6"/>
<path d="M18.50,522.30 L66.00,522.30 L72.00,521.60 L76.00,520.20 L79.00,517.50 L82.00,512.00 L84.50,505.00 L87.00,491.40 L89.60,473.60 L93.20,455.70 L95.50,447.00 L96.80,445.00 L98.00,448.00 L99.50,447.00 L101.80,443.00 L104.00,450.00 L106.00,453.00 L108.70,455.70 L112.00,465.00 L115.70,476.60 L119.00,488.00 L122.60,499.80 L126.00,508.00 L129.60,513.70 L136.00,515.00 L142.00,516.00 L148.00,517.00 L155.00,519.00 L165.00,521.00 L176.00,522.00 L178.00,522.30" fill="none" stroke="#0000ff" stroke-width="1.2" stroke-linejoin="round"/>
<line x1="18.50" y1="522.30" x2="27.71" y2="488.10" stroke="#222" stroke-width="1"/>
<line x1="178.00" y1="522.30" x2="187.21" y2="488.10" stroke="#222" stroke-width="1"/>
<line x1="27.71" y1="488.10" x2="187.21" y2="488.10" stroke="#777" stroke-width="1"/>
<text x="15.50" y="540.40" font-size="11" fill="#111">10<tspan font-size="7.5" dy="-4">2</tspan></text>
<text x="58.00" y="540.40" font-size="11" fill="#111">10<tspan font-size="7.5" dy="-4">3</tspan></text>
<text x="106.00" y="540.40" font-size="11" fill="#111">10<tspan font-size="7.5" dy="-4">4</tspan></text>
<text x="154.00" y="540.40" font-size="11" fill="#111">10<tspan font-size="7.5" dy="-4">5</tspan></text>
<text x="64.00" y="555.00" font-size="11" fill="#111">AGS PD-L1</text>
<line x1="356.00" y1="523.70" x2="364.61" y2="491.40" stroke="#333" stroke-width="0.5" stroke-opacity="0.65"/>
<line x1="356.00" y1="523.70" x2="356.00" y2="527.70" stroke="#222" stroke-width="1.3"/>
<line x1="372.01" y1="523.70" x2="380.62" y2="491.40" stroke="#333" stroke-width="0.5" stroke-opacity="0.65"/>
<line x1="372.01" y1="523.70" x2="372.01" y2="525.70" stroke="#222" stroke-width="0.8"/>
<line x1="381.38" y1="523.70" x2="389.99" y2="491.40" stroke="#333" stroke-width="0.5" stroke-opacity="0.65"/>
<line x1="381.38" y1="523.70" x2="381.38" y2="525.70" stroke="#222" stroke-width="0.8"/>
<line x1="388.03" y1="523.70" x2="396.64" y2="491.40" stroke="#333" stroke-width="0.5" stroke-opacity="0.65"/>
<line x1="388.03" y1="523.70" x2="388.03" y2="525.70" stroke="#222" stroke-width="0.8"/>
<line x1="393.19" y1="523.70" x2="401.80" y2="491.40" stroke="#333" stroke-width="0.5" stroke-opacity="0.65"/>
<line x1="393.19" y1="523.70" x2="393.19" y2="526.70" stroke="#222" stroke-width="0.8"/>
<line x1="397.40" y1="523.70" x2="406.01" y2="491.40" stroke="#333" stroke-width="0.5" stroke-opacity="0.65"/>
<line x1="397.40" y1="523.70" x2="397.40" y2="525.70" stroke="#222" stroke-width="0.8"/>
<line x1="400.96" y1="523.70" x2="409.57" y2="491.40" stroke="#333" stroke-width="0.5" stroke-opacity="0.65"/>
<line x1="400.96" y1="523.70" x2="400.96" y2="525.70" stroke="#222" stroke-width="0.8"/>
<line x1="404.04" y1="523.70" x2="412.65" y2="491.40" stroke="#333" stroke-width="0.5" stroke-opacity="0.65"/>
<line x1="404.04" y1="523.70" x2="404.04" y2="525.70" stroke="#222" stroke-width="0.8"/>
<line x1="406.77" y1="523.70" x2="415.38" y2="491.40" stroke="#333" stroke-width="0.5" stroke-opacity="0.65"/>
<line x1="406.77" y1="523.70" x2="406.77" y2="525.70" stroke="#222" stroke-width="0.8"/>
<line x1="409.20" y1="523.70" x2="417.81" y2="491.40" stroke="#333" stroke-width="0.5" stroke-opacity="0.65"/>
<line x1="409.20" y1="523.70" x2="409.20" y2="527.70" stroke="#222" stroke-width="1.3"/>
<line x1="425.21" y1="523.70" x2="433.82" y2="491.40" stroke="#333" stroke-width="0.5" stroke-opacity="0.65"/>
<line x1="425.21" y1="523.70" x2="425.21" y2="525.70" stroke="#222" stroke-width="0.8"/>
<line x1="434.58" y1="523.70" x2="443.19" y2="491.40" stroke="#333" stroke-width="0.5" stroke-opacity="0.65"/>
<line x1="434.58" y1="523.70" x2="434.58" y2="525.70" stroke="#222" stroke-width="0.8"/>
<line x1="441.23" y1="523.70" x2="449.84" y2="491.40" stroke="#333" stroke-width="0.5" stroke-opacity="0.65"/>
<line x1="441.23" y1="523.70" x2="441.23" y2="525.70" stroke="#222" stroke-width="0.8"/>
<line x1="446.39" y1="523.70" x2="455.00" y2="491.40" stroke="#333" stroke-width="0.5" stroke-opacity="0.65"/>
<line x1="446.39" y1="523.70" x2="446.39" y2="526.70" stroke="#222" stroke-width="0.8"/>
<line x1="450.60" y1="523.70" x2="459.21" y2="491.40" stroke="#333" stroke-width="0.5" stroke-opacity="0.65"/>
<line x1="450.60" y1="523.70" x2="450.60" y2="525.70" stroke="#222" stroke-width="0.8"/>
<line x1="454.16" y1="523.70" x2="462.77" y2="491.40" stroke="#333" stroke-width="0.5" stroke-opacity="0.65"/>
<line x1="454.16" y1="523.70" x2="454.16" y2="525.70" stroke="#222" stroke-width="0.8"/>
<line x1="457.24" y1="523.70" x2="465.85" y2="491.40" stroke="#333" stroke-width="0.5" stroke-opacity="0.65"/>
<line x1="457.24" y1="523.70" x2="457.24" y2="525.70" stroke="#222" stroke-width="0.8"/>
<line x1="459.97" y1="523.70" x2="468.58" y2="491.40" stroke="#333" stroke-width="0.5" stroke-opacity="0.65"/>
<line x1="459.97" y1="523.70" x2="459.97" y2="525.70" stroke="#222" stroke-width="0.8"/>
<line x1="462.40" y1="523.70" x2="471.01" y2="491.40" stroke="#333" stroke-width="0.5" stroke-opacity="0.65"/>
<line x1="462.40" y1="523.70" x2="462.40" y2="527.70" stroke="#222" stroke-width="1.3"/>
<line x1="478.41" y1="523.70" x2="487.02" y2="491.40" stroke="#333" stroke-width="0.5" stroke-opacity="0.65"/>
<line x1="478.41" y1="523.70" x2="478.41" y2="525.70" stroke="#222" stroke-width="0.8"/>
<line x1="487.78" y1="523.70" x2="496.39" y2="491.40" stroke="#333" stroke-width="0.5" stroke-opacity="0.65"/>
<line x1="487.78" y1="523.70" x2="487.78" y2="525.70" stroke="#222" stroke-width="0.8"/>
<line x1="494.43" y1="523.70" x2="503.04" y2="491.40" stroke="#333" stroke-width="0.5" stroke-opacity="0.65"/>
<line x1="494.43" y1="523.70" x2="494.43" y2="525.70" stroke="#222" stroke-width="0.8"/>
<line x1="499.59" y1="523.70" x2="508.20" y2="491.40" stroke="#333" stroke-width="0.5" stroke-opacity="0.65"/>
<line x1="499.59" y1="523.70" x2="499.59" y2="526.70" stroke="#222" stroke-width="0.8"/>
<line x1="503.80" y1="523.70" x2="512.41" y2="491.40" stroke="#333" stroke-width="0.5" stroke-opacity="0.65"/>
<line x1="503.80" y1="523.70" x2="503.80" y2="525.70" stroke="#222" stroke-width="0.8"/>
<line x1="507.36" y1="523.70" x2="515.97" y2="491.40" stroke="#333" stroke-width="0.5" stroke-opacity="0.65"/>
<line x1="507.36" y1="523.70" x2="507.36" y2="525.70" stroke="#222" stroke-width="0.8"/>
<line x1="510.44" y1="523.70" x2="519.05" y2="491.40" stroke="#333" stroke-width="0.5" stroke-opacity="0.65"/>
<line x1="510.44" y1="523.70" x2="510.44" y2="525.70" stroke="#222" stroke-width="0.8"/>
<line x1="513.17" y1="523.70" x2="521.78" y2="491.40" stroke="#333" stroke-width="0.5" stroke-opacity="0.65"/>
<line x1="513.17" y1="523.70" x2="513.17" y2="525.70" stroke="#222" stroke-width="0.8"/>
<line x1="515.60" y1="523.70" x2="524.21" y2="491.40" stroke="#333" stroke-width="0.5" stroke-opacity="0.65"/>
<line x1="515.60" y1="523.70" x2="515.60" y2="527.70" stroke="#222" stroke-width="1.3"/>
<path d="M364.61,491.40 L364.30,489.00 L364.80,486.00 L366.00,488.00 L380.00,489.30 L390.00,489.30 L399.30,487.00 L404.00,484.00 L408.60,478.90 L413.20,469.60 L416.00,458.00 L419.00,434.80 L422.50,423.20 L426.00,412.80 L428.00,410.00 L429.50,409.30 L431.80,410.40 L434.00,418.60 L435.30,427.80 L438.00,433.00 L441.00,442.00 L444.00,452.00 L447.00,463.00 L450.00,474.00 L454.00,483.00 L458.00,488.00 L465.00,490.50 L475.00,491.00 L535.61,491.40 Z" fill="#b4b4b4" fill-opacity="1.0"/>
<path d="M361.74,502.00 L390.00,501.00 L397.00,500.00 L404.00,497.50 L410.90,490.50 L415.50,476.60 L419.00,458.00 L422.50,434.80 L424.80,424.40 L427.10,423.20 L429.50,425.50 L431.80,423.20 L434.10,429.00 L436.40,434.80 L439.00,445.00 L441.50,458.00 L444.00,472.00 L447.00,486.00 L450.00,495.00 L454.00,500.00 L460.00,502.00 L532.74,502.00 Z" fill="#ff0000" fill-opacity="0.55"/>
<path d="M358.87,512.90 L390.00,512.60 L408.60,509.00 L415.50,502.00 L420.50,489.00 L425.50,470.00 L428.50,460.00 L430.50,450.00 L432.30,441.00 L434.00,437.00 L435.50,436.00 L437.60,434.80 L439.90,432.20 L442.20,434.80 L444.50,446.40 L447.50,456.00 L451.00,466.00 L454.50,476.00 L458.00,487.00 L462.00,497.00 L466.00,505.00 L471.00,510.00 L480.00,512.00 L495.00,513.00 L529.87,512.90 Z" fill="#00ff00" fill-opacity="0.55"/>
<path d="M356.00,523.70 L408.60,523.50 L417.80,520.70 L424.80,513.70 L430.60,497.50 L435.80,478.00 L439.50,465.00 L441.50,459.00 L443.20,455.00 L445.00,452.40 L448.00,450.50 L450.00,450.80 L451.50,449.30 L453.00,452.00 L455.00,460.30 L457.00,462.00 L459.60,467.30 L464.30,481.20 L468.90,492.80 L473.50,506.80 L478.20,518.40 L485.10,523.00 L500.00,523.60 L527.00,523.70 Z" fill="#0000ff" fill-opacity="0.55"/>
<mask id="fm4" maskUnits="userSpaceOnUse" x="0" y="0" width="685" height="560"><rect x="0" y="0" width="685" height="560" fill="white"/><path d="M361.74,502.00 L390.00,501.00 L397.00,500.00 L404.00,497.50 L410.90,490.50 L415.50,476.60 L419.00,458.00 L422.50,434.80 L424.80,424.40 L427.10,423.20 L429.50,425.50 L431.80,423.20 L434.10,429.00 L436.40,434.80 L439.00,445.00 L441.50,458.00 L444.00,472.00 L447.00,486.00 L450.00,495.00 L454.00,500.00 L460.00,502.00 L532.74,502.00 Z" fill="black"/><path d="M358.87,512.90 L390.00,512.60 L408.60,509.00 L415.50,502.00 L420.50,489.00 L425.50,470.00 L428.50,460.00 L430.50,450.00 L432.30,441.00 L434.00,437.00 L435.50,436.00 L437.60,434.80 L439.90,432.20 L442.20,434.80 L444.50,446.40 L447.50,456.00 L451.00,466.00 L454.50,476.00 L458.00,487.00 L462.00,497.00 L466.00,505.00 L471.00,510.00 L480.00,512.00 L495.00,513.00 L529.87,512.90 Z" fill="black"/><path d="M356.00,523.70 L408.60,523.50 L417.80,520.70 L424.80,513.70 L430.60,497.50 L435.80,478.00 L439.50,465.00 L441.50,459.00 L443.20,455.00 L445.00,452.40 L448.00,450.50 L450.00,450.80 L451.50,449.30 L453.00,452.00 L455.00,460.30 L457.00,462.00 L459.60,467.30 L464.30,481.20 L468.90,492.80 L473.50,506.80 L478.20,518.40 L485.10,523.00 L500.00,523.60 L527.00,523.70 Z" fill="black"/></mask>
<path d="M364.61,491.40 L364.30,489.00 L364.80,486.00 L366.00,488.00 L380.00,489.30 L390.00,489.30 L399.30,487.00 L404.00,484.00 L408.60,478.90 L413.20,469.60 L416.00,458.00 L419.00,434.80 L422.50,423.20 L426.00,412.80 L428.00,410.00 L429.50,409.30 L431.80,410.40 L434.00,418.60 L435.30,427.80 L438.00,433.00 L441.00,442.00 L444.00,452.00 L447.00,463.00 L450.00,474.00 L454.00,483.00 L458.00,488.00 L465.00,490.50 L475.00,491.00 L535.61,491.40" fill="none" stroke="#888" stroke-width="1.0" stroke-linejoin="round" mask="url(#fm4)"/>
<mask id="fm5" maskUnits="userSpaceOnUse" x="0" y="0" width="685" height="560"><rect x="0" y="0" width="685" height="560" fill="white"/><path d="M358.87,512.90 L390.00,512.60 L408.60,509.00 L415.50,502.00 L420.50,489.00 L425.50,470.00 L428.50,460.00 L430.50,450.00 L432.30,441.00 L434.00,437.00 L435.50,436.00 L437.60,434.80 L439.90,432.20 L442.20,434.80 L444.50,446.40 L447.50,456.00 L451.00,466.00 L454.50,476.00 L458.00,487.00 L462.00,497.00 L466.00,505.00 L471.00,510.00 L480.00,512.00 L495.00,513.00 L529.87,512.90 Z" fill="black"/><path d="M356.00,523.70 L408.60,523.50 L417.80,520.70 L424.80,513.70 L430.60,497.50 L435.80,478.00 L439.50,465.00 L441.50,459.00 L443.20,455.00 L445.00,452.40 L448.00,450.50 L450.00,450.80 L451.50,449.30 L453.00,452.00 L455.00,460.30 L457.00,462.00 L459.60,467.30 L464.30,481.20 L468.90,492.80 L473.50,506.80 L478.20,518.40 L485.10,523.00 L500.00,523.60 L527.00,523.70 Z" fill="black"/></mask>
<path d="M390.00,501.00 L397.00,500.00 L404.00,497.50 L410.90,490.50 L415.50,476.60 L419.00,458.00 L422.50,434.80 L424.80,424.40 L427.10,423.20 L429.50,425.50 L431.80,423.20 L434.10,429.00 L436.40,434.80 L439.00,445.00 L441.50,458.00 L444.00,472.00 L447.00,486.00 L450.00,495.00 L454.00,500.00 L460.00,502.00" fill="none" stroke="#ff0000" stroke-width="1.0" stroke-linejoin="round" mask="url(#fm5)"/>
<line x1="360.94" y1="502.00" x2="390.00" y2="501.00" stroke="#ff0000" stroke-width="1.0" stroke-opacity="0.6"/>
<line x1="460.00" y1="502.00" x2="533.54" y2="502.00" stroke="#ff0000" stroke-width="1.0" stroke-opacity="0.6"/>
<mask id="fm6" maskUnits="userSpaceOnUse" x="0" y="0" width="685" height="560"><rect x="0" y="0" width="685" height="560" fill="white"/><path d="M356.00,523.70 L408.60,523.50 L417.80,520.70 L424.80,513.70 L430.60,497.50 L435.80,478.00 L439.50,465.00 L441.50,459.00 L443.20,455.00 L445.00,452.40 L448.00,450.50 L450.00,450.80 L451.50,449.30 L453.00,452.00 L455.00,460.30 L457.00,462.00 L459.60,467.30 L464.30,481.20 L468.90,492.80 L473.50,506.80 L478.20,518.40 L485.10,523.00 L500.00,523.60 L527.00,523.70 Z" fill="black"/></mask>
<path d="M390.00,512.60 L408.60,509.00 L415.50,502.00 L420.50,489.00 L425.50,470.00 L428.50,460.00 L430.50,450.00 L432.30,441.00 L434.00,437.00 L435.50,436.00 L437.60,434.80 L439.90,432.20 L442.20,434.80 L444.50,446.40 L447.50,456.00 L451.00,466.00 L454.50,476.00 L458.00,487.00 L462.00,497.00 L466.00,505.00 L471.00,510.00 L480.00,512.00 L495.00,513.00" fill="none" stroke="#00ee00" stroke-width="1.0" stroke-linejoin="round" mask="url(#fm6)"/>
<line x1="358.07" y1="512.90" x2="390.00" y2="512.60" stroke="#00ee00" stroke-width="1.0" stroke-opacity="0.6"/>
<line x1="495.00" y1="513.00" x2="530.67" y2="512.90" stroke="#00ee00" stroke-width="1.0" stroke-opacity="0.6"/>
<path d="M356.00,523.70 L408.60,523.50 L417.80,520.70 L424.80,513.70 L430.60,497.50 L435.80,478.00 L439.50,465.00 L441.50,459.00 L443.20,455.00 L445.00,452.40 L448.00,450.50 L450.00,450.80 L451.50,449.30 L453.00,452.00 L455.00,460.30 L457.00,462.00 L459.60,467.30 L464.30,481.20 L468.90,492.80 L473.50,506.80 L478.20,518.40 L485.10,523.00 L500.00,523.60 L527.00,523.70" fill="none" stroke="#0000ff" stroke-width="1.2" stroke-linejoin="round"/>
<line x1="356.00" y1="523.70" x2="364.61" y2="491.40" stroke="#222" stroke-width="1"/>
<line x1="527.00" y1="523.70" x2="535.61" y2="491.40" stroke="#222" stroke-width="1"/>
<line x1="364.61" y1="491.40" x2="535.61" y2="491.40" stroke="#777" stroke-width="1"/>
<text x="351.00" y="544.00" font-size="11" fill="#111">10<tspan font-size="7.5" dy="-4">2</tspan></text>
<text x="399.80" y="544.00" font-size="11" fill="#111">10<tspan font-size="7.5" dy="-4">3</tspan></text>
<text x="453.80" y="544.00" font-size="11" fill="#111">10<tspan font-size="7.5" dy="-4">4</tspan></text>
<text x="508.60" y="544.00" font-size="11" fill="#111">10<tspan font-size="7.5" dy="-4">5</tspan></text>
<text x="408.80" y="558.00" font-size="11" fill="#111">N87 PD-L1</text>
<line x1="235.50" y1="443.40" x2="235.50" y2="533.60" stroke="#222" stroke-width="1"/>
<line x1="235.50" y1="533.60" x2="338.40" y2="533.60" stroke="#222" stroke-width="1"/>
<line x1="232.50" y1="533.60" x2="235.50" y2="533.60" stroke="#222" stroke-width="1"/>
<text x="231.50" y="537.90" font-size="12" text-anchor="end" transform="translate(231.50 537.90) scale(0.92 1) translate(-231.50 -537.90)" fill="#111">0.0</text>
<line x1="232.50" y1="511.05" x2="235.50" y2="511.05" stroke="#222" stroke-width="1"/>
<text x="231.50" y="515.35" font-size="12" text-anchor="end" transform="translate(231.50 515.35) scale(0.92 1) translate(-231.50 -515.35)" fill="#111">0.5</text>
<line x1="232.50" y1="488.50" x2="235.50" y2="488.50" stroke="#222" stroke-width="1"/>
<text x="231.50" y="492.80" font-size="12" text-anchor="end" transform="translate(231.50 492.80) scale(0.92 1) translate(-231.50 -492.80)" fill="#111">1.0</text>
<line x1="232.50" y1="465.95" x2="235.50" y2="465.95" stroke="#222" stroke-width="1"/>
<text x="231.50" y="470.25" font-size="12" text-anchor="end" transform="translate(231.50 470.25) scale(0.92 1) translate(-231.50 -470.25)" fill="#111">1.5</text>
<line x1="232.50" y1="443.40" x2="235.50" y2="443.40" stroke="#222" stroke-width="1"/>
<text x="231.50" y="447.70" font-size="12" text-anchor="end" transform="translate(231.50 447.70) scale(0.92 1) translate(-231.50 -447.70)" fill="#111">2.0</text>
<line x1="252.60" y1="485.79" x2="252.60" y2="488.50" stroke="#222" stroke-width="1"/>
<line x1="246.60" y1="485.79" x2="258.60" y2="485.79" stroke="#222" stroke-width="1"/>
<rect x="241.00" y="488.50" width="23.20" height="45.10" fill="#ff0000" stroke="#111" stroke-width="1"/>
<line x1="252.60" y1="533.60" x2="252.60" y2="536.60" stroke="#222" stroke-width="1"/>
<text x="252.60" y="547.00" font-size="12" text-anchor="middle" transform="translate(252.60 547.00) scale(0.92 1) translate(-252.60 -547.00)" fill="#111">0</text>
<line x1="286.90" y1="459.64" x2="286.90" y2="460.54" stroke="#222" stroke-width="1"/>
<line x1="280.90" y1="459.64" x2="292.90" y2="459.64" stroke="#222" stroke-width="1"/>
<rect x="275.40" y="460.54" width="23.00" height="73.06" fill="#00ff00" stroke="#111" stroke-width="1"/>
<line x1="286.90" y1="533.60" x2="286.90" y2="536.60" stroke="#222" stroke-width="1"/>
<text x="286.90" y="547.00" font-size="12" text-anchor="middle" transform="translate(286.90 547.00) scale(0.92 1) translate(-286.90 -547.00)" fill="#111">100</text>
<text x="286.90" y="460.64" font-size="12" text-anchor="middle" font-weight="bold" fill="#111">*</text>
<line x1="320.90" y1="456.48" x2="320.90" y2="459.19" stroke="#222" stroke-width="1"/>
<line x1="314.90" y1="456.48" x2="326.90" y2="456.48" stroke="#222" stroke-width="1"/>
<rect x="309.40" y="459.19" width="23.00" height="74.41" fill="#0000ff" stroke="#111" stroke-width="1"/>
<line x1="320.90" y1="533.60" x2="320.90" y2="536.60" stroke="#222" stroke-width="1"/>
<text x="320.90" y="547.00" font-size="12" text-anchor="middle" transform="translate(320.90 547.00) scale(0.92 1) translate(-320.90 -547.00)" fill="#111">200</text>
<text x="321.30" y="457.08" font-size="14" text-anchor="middle" font-weight="bold" letter-spacing="0.6" fill="#111">**</text>
<text x="208.00" y="486.00" font-size="9.5" text-anchor="middle" transform="rotate(-90 208.00 486.00)" fill="#111">Relative PD-L1 MFI</text>
<line x1="578.50" y1="485.00" x2="578.50" y2="533.10" stroke="#222" stroke-width="1"/>
<line x1="578.50" y1="430.60" x2="578.50" y2="478.10" stroke="#222" stroke-width="1"/>
<line x1="578.50" y1="533.10" x2="683.80" y2="533.10" stroke="#222" stroke-width="1"/>
<line x1="576.00" y1="485.00" x2="580.00" y2="485.00" stroke="#222" stroke-width="1"/>
<line x1="576.00" y1="478.10" x2="580.00" y2="478.10" stroke="#222" stroke-width="1"/>
<line x1="575.50" y1="533.10" x2="578.50" y2="533.10" stroke="#222" stroke-width="1"/>
<text x="567.60" y="536.70" font-size="10.3" text-anchor="end" fill="#111">0</text>
<line x1="575.50" y1="519.56" x2="578.50" y2="519.56" stroke="#222" stroke-width="1"/>
<text x="567.60" y="523.16" font-size="10.3" text-anchor="end" fill="#111">2</text>
<line x1="575.50" y1="506.02" x2="578.50" y2="506.02" stroke="#222" stroke-width="1"/>
<text x="567.60" y="509.62" font-size="10.3" text-anchor="end" fill="#111">4</text>
<line x1="575.50" y1="492.48" x2="578.50" y2="492.48" stroke="#222" stroke-width="1"/>
<text x="567.60" y="496.08" font-size="10.3" text-anchor="end" fill="#111">6</text>
<line x1="575.50" y1="462.50" x2="578.50" y2="462.50" stroke="#222" stroke-width="1"/>
<text x="567.60" y="466.00" font-size="10" text-anchor="end" fill="#111">12</text>
<line x1="575.50" y1="430.60" x2="578.50" y2="430.60" stroke="#222" stroke-width="1"/>
<text x="567.60" y="434.10" font-size="10" text-anchor="end" fill="#111">14</text>
<rect x="584.00" y="526.50" width="23.00" height="6.60" fill="#ff0000" stroke="#111" stroke-width="1"/>
<line x1="595.50" y1="525.60" x2="595.50" y2="526.50" stroke="#222" stroke-width="1"/>
<rect x="619.50" y="499.50" width="23.00" height="33.60" fill="#00ff00" stroke="#111" stroke-width="1"/>
<line x1="631.00" y1="498.00" x2="631.00" y2="499.50" stroke="#222" stroke-width="1"/>
<line x1="626.00" y1="498.00" x2="636.00" y2="498.00" stroke="#222" stroke-width="1"/>
<text x="631.00" y="498.50" font-size="12.5" text-anchor="middle" font-weight="bold" fill="#111">*</text>
<rect x="654.50" y="485.00" width="23.50" height="48.10" fill="#0000ff" stroke="none" stroke-width="1"/>
<line x1="654.50" y1="485.00" x2="654.50" y2="533.10" stroke="#111" stroke-width="1"/>
<line x1="678.00" y1="485.00" x2="678.00" y2="533.10" stroke="#111" stroke-width="1"/>
<rect x="654.50" y="450.00" width="23.50" height="28.00" fill="#0000ff" stroke="#111" stroke-width="1"/>
<line x1="666.20" y1="447.00" x2="666.20" y2="450.00" stroke="#222" stroke-width="1"/>
<line x1="660.50" y1="447.00" x2="671.50" y2="447.00" stroke="#222" stroke-width="1"/>
<text x="666.40" y="447.00" font-size="13" text-anchor="middle" font-weight="bold" letter-spacing="0.6" fill="#111">**</text>
<line x1="595.50" y1="533.10" x2="595.50" y2="536.10" stroke="#222" stroke-width="1"/>
<text x="595.50" y="547.00" font-size="10.8" text-anchor="middle" fill="#111">0</text>
<line x1="630.80" y1="533.10" x2="630.80" y2="536.10" stroke="#222" stroke-width="1"/>
<text x="630.80" y="547.00" font-size="10.8" text-anchor="middle" fill="#111">100</text>
<line x1="666.20" y1="533.10" x2="666.20" y2="536.10" stroke="#222" stroke-width="1"/>
<text x="666.20" y="547.00" font-size="10.8" text-anchor="middle" fill="#111">200</text>
<text x="553.20" y="479.80" font-size="9.5" text-anchor="middle" transform="rotate(-90 553.20 479.80)" fill="#111">Relative PD-L1 MFI</text>
</svg></body></html>
